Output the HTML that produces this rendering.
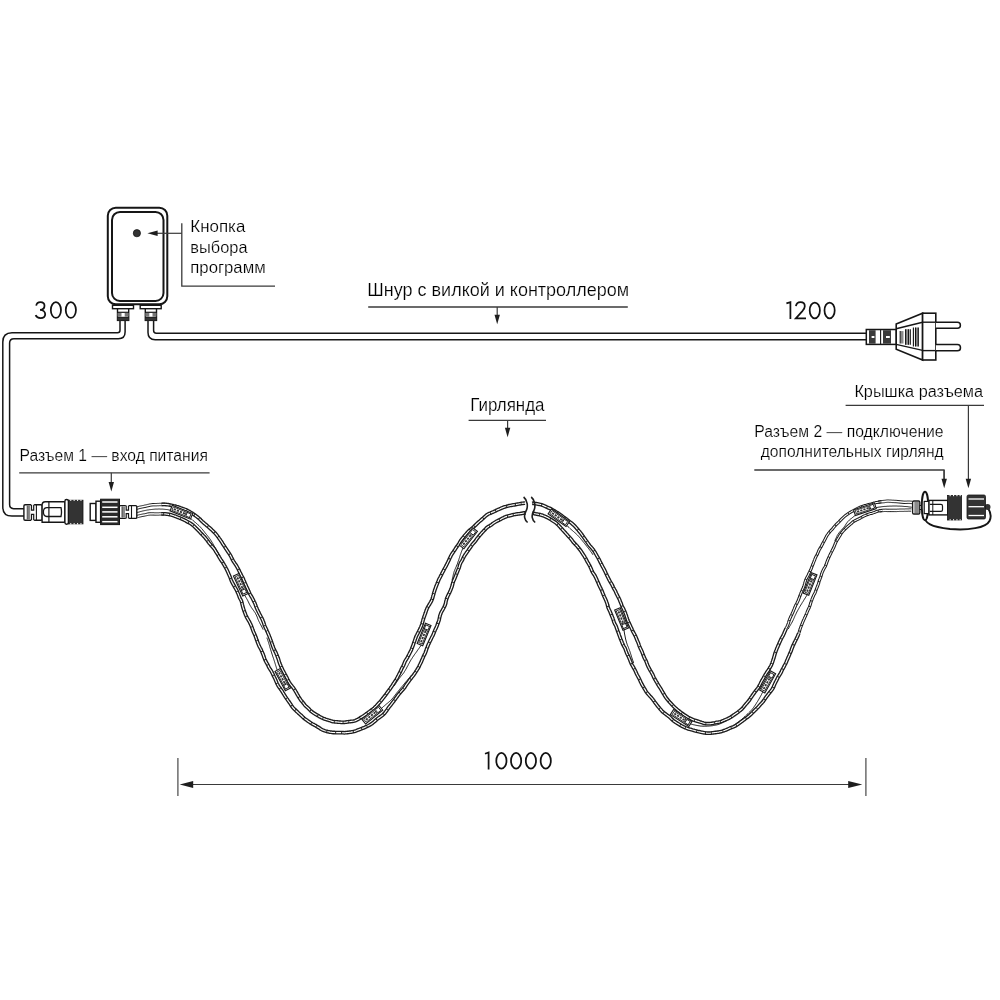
<!DOCTYPE html>
<html><head><meta charset="utf-8">
<style>
html,body{margin:0;padding:0;background:#fff;}
svg{display:block;}
text{font-family:"Liberation Sans",sans-serif;fill:#000;stroke:#fff;stroke-width:0.2px;}
</style></head>
<body>
<svg width="1000" height="1000" viewBox="0 0 1000 1000">
<defs><filter id="gs" x="0" y="0" width="1000" height="1000" filterUnits="userSpaceOnUse"><feColorMatrix type="identity"/></filter></defs>
<rect width="1000" height="1000" fill="#fff"/>

<path d="M120,320.4 V330.2 Q120,332.7 117.5,332.7 H12 Q2.8,332.7 2.8,342 V507 Q2.8,516.1 11.9,516.1 H24" fill="none" stroke="#161616" stroke-width="1.5"/>
<path d="M125.1,320.4 V332 Q125.1,338.7 118.4,338.7 H14 Q9.6,338.7 9.6,343.1 V504.6 Q9.6,508.65 13.6,508.65 H24" fill="none" stroke="#161616" stroke-width="1.5"/>
<path d="M148,320.4 V332.6 Q148,339.8 155.2,339.8 H866" fill="none" stroke="#161616" stroke-width="1.5"/>
<path d="M153.6,320.4 V330.6 Q153.6,333.3 156.3,333.3 H866" fill="none" stroke="#161616" stroke-width="1.5"/>


<rect x="107.8" y="207.7" width="59.5" height="96.6" rx="8" fill="#fff" stroke="#161616" stroke-width="2"/>
<rect x="112" y="211.9" width="51.5" height="89.1" rx="8" fill="none" stroke="#161616" stroke-width="2"/>
<circle cx="136.9" cy="233.2" r="3.6" fill="#333" stroke="#161616" stroke-width="0.8"/>
<rect x="112.5" y="305.3" width="21" height="3.4" fill="#fff" stroke="#161616" stroke-width="1.4"/>
<rect x="140.2" y="305.3" width="21" height="3.4" fill="#fff" stroke="#161616" stroke-width="1.4"/>
<g transform="translate(117.5,0)">
<rect x="0" y="308.7" width="11.2" height="11.7" fill="#fff" stroke="#161616" stroke-width="1.4"/>
<line x1="0" y1="312.3" x2="11.2" y2="312.3" stroke="#161616" stroke-width="1.2"/>
<rect x="0" y="313" width="4" height="3.6" fill="#777"/>
<rect x="7.2" y="313" width="4" height="3.6" fill="#777"/>
<line x1="0" y1="317.4" x2="11.2" y2="317.4" stroke="#161616" stroke-width="1.2"/>
<rect x="0" y="317.6" width="11.2" height="2.8" fill="#333"/>
</g><g transform="translate(145.3,0)">
<rect x="0" y="308.7" width="11.2" height="11.7" fill="#fff" stroke="#161616" stroke-width="1.4"/>
<line x1="0" y1="312.3" x2="11.2" y2="312.3" stroke="#161616" stroke-width="1.2"/>
<rect x="0" y="313" width="4" height="3.6" fill="#777"/>
<rect x="7.2" y="313" width="4" height="3.6" fill="#777"/>
<line x1="0" y1="317.4" x2="11.2" y2="317.4" stroke="#161616" stroke-width="1.2"/>
<rect x="0" y="317.6" width="11.2" height="2.8" fill="#333"/>
</g>

<rect x="866.3" y="329.5" width="30.1" height="14.9" fill="#fff" stroke="#161616" stroke-width="1.5"/>
<rect x="869" y="330.2" width="6.6" height="13.5" fill="#3a3a3a"/>
<rect x="883" y="330.2" width="8" height="13.5" fill="#3a3a3a"/>
<rect x="871.6" y="336" width="2.8" height="2" fill="#fff"/>
<rect x="886" y="336" width="3.8" height="2" fill="#fff"/>
<line x1="880.6" y1="329.5" x2="880.6" y2="344.4" stroke="#161616" stroke-width="1.1"/>
<polygon points="896.2,324 922.6,313.2 922.6,360 896.2,349.2" fill="#fff" stroke="#161616" stroke-width="1.6" stroke-linejoin="miter"/>
<line x1="896.2" y1="328.8" x2="922.6" y2="322.2" stroke="#161616" stroke-width="1.4"/>
<line x1="896.2" y1="344.4" x2="922.6" y2="350.4" stroke="#161616" stroke-width="1.4"/>
<rect x="900.9" y="331.1" width="2.6" height="12.4" fill="#8a8a8a"/>
<rect x="905.4" y="329.2" width="3.4" height="15.6" fill="#8a8a8a"/>
<rect x="915.5" y="327.5" width="2.8" height="19" fill="#8a8a8a"/>
<g stroke="#111" stroke-width="1.1">
<line x1="900.2" y1="331.1" x2="900.2" y2="343.5"/>
<line x1="905.6" y1="329.2" x2="905.6" y2="344.8"/><line x1="908.6" y1="329.2" x2="908.6" y2="344.8"/><line x1="910.3" y1="329.2" x2="910.3" y2="344.8"/>
<line x1="913.4" y1="327.5" x2="913.4" y2="346.5"/><line x1="915.5" y1="327.5" x2="915.5" y2="346.5"/><line x1="918.3" y1="327.5" x2="918.3" y2="346.5"/>
</g>
<rect x="922.6" y="313.2" width="13.2" height="46.8" fill="#fff" stroke="#161616" stroke-width="1.6"/>
<line x1="922.6" y1="322.2" x2="935.8" y2="322.2" stroke="#161616" stroke-width="1.4"/>
<line x1="922.6" y1="350.6" x2="935.8" y2="350.6" stroke="#161616" stroke-width="1.4"/>
<path d="M935.8,322.2 H957.4 A3,3 0 0 1 957.4,328.2 H935.8" fill="#fff" stroke="#161616" stroke-width="1.5"/>
<path d="M935.8,344.6 H957.4 A3.1,3.1 0 0 1 957.4,350.8 H935.8" fill="#fff" stroke="#161616" stroke-width="1.5"/>

<polyline points="161.6,504.5 162.7,504.4 163.8,504.4 164.9,504.4 166.0,504.5 167.1,504.6 168.1,504.7 169.2,504.9 170.3,505.1 171.3,505.3 172.4,505.5 173.5,505.8 174.5,506.0 175.6,506.2 176.6,506.5 177.7,506.8 178.7,507.2 179.7,507.6 180.7,508.0 181.7,508.4 182.8,508.7 183.8,509.0 184.8,509.4 185.8,509.8 186.8,510.3 187.8,510.8 188.7,511.3 189.7,511.8 190.6,512.4 191.5,512.9 192.5,513.5 193.4,514.1 194.2,514.7 195.1,515.3 196.0,516.0 196.8,516.6 197.7,517.3 198.5,517.9 199.3,518.6 200.1,519.3 200.8,520.1 201.6,520.9 202.3,521.6 203.1,522.3 203.9,523.0 204.7,523.7 205.5,524.3 206.3,525.0 207.1,525.7 207.9,526.4 208.7,527.1 209.5,527.8 210.3,528.5 211.1,529.2 211.8,529.9 212.6,530.6 213.3,531.3 214.1,532.1 214.8,532.8 215.5,533.6 216.2,534.4 216.8,535.2 217.5,536.1 218.1,536.9 218.7,537.7 219.3,538.6 219.9,539.4 220.5,540.3 221.1,541.1 221.7,542.0 222.2,542.9 222.7,543.8 223.3,544.6 223.9,545.5 224.4,546.3 225.0,547.2 225.5,548.1 226.1,548.9 226.7,549.8 227.2,550.7 227.8,551.5 228.4,552.4 229.0,553.2 229.5,554.1 230.1,554.9 230.6,555.8 231.1,556.7 231.5,557.6 232.0,558.6 232.4,559.5 232.9,560.4 233.4,561.3 234.0,562.1 234.6,563.0 235.1,563.8 235.7,564.7 236.3,565.5 236.8,566.4 237.3,567.3 237.8,568.2 238.3,569.1 238.7,570.0 239.2,570.9 239.6,571.8 240.1,572.7 240.5,573.6 240.9,574.5 241.4,575.4 241.9,576.3 242.4,577.2 242.9,578.1 243.3,579.0 243.7,580.0 244.1,580.9 244.5,581.8 244.8,582.8 245.2,583.7 245.7,584.6 246.1,585.5 246.5,586.5 246.9,587.4 247.4,588.3 247.8,589.2 248.2,590.1 248.6,591.1 249.0,592.0 249.4,592.9 249.8,593.8 250.3,594.7 250.8,595.6 251.3,596.4 251.9,597.3 252.3,598.2 252.8,599.1 253.3,600.0 253.7,600.9 254.1,601.8 254.6,602.7 255.0,603.6 255.4,604.6 255.7,605.5 256.0,606.5 256.4,607.4 256.8,608.3 257.2,609.3 257.6,610.2 258.1,611.1 258.5,612.0 259.0,612.9 259.4,613.8 259.9,614.7 260.4,615.6 260.8,616.4 261.3,617.3 261.7,618.2 262.2,619.1 262.6,620.0 263.0,621.0 263.4,621.9 263.7,622.8 264.0,623.8 264.3,624.8 264.6,625.7 265.0,626.6 265.4,627.5 265.8,628.4 266.3,629.3 266.7,630.2 267.1,631.2 267.5,632.1 267.9,633.0 268.3,633.9 268.7,634.8 269.1,635.7 269.4,636.7 269.8,637.6 270.2,638.5 270.5,639.4 270.9,640.4 271.2,641.3 271.5,642.2 271.8,643.2 272.2,644.1 272.5,645.1 272.8,646.0 273.2,647.0 273.5,647.9 273.9,648.8 274.3,649.7 274.8,650.6 275.2,651.5 275.7,652.3 276.1,653.2 276.5,654.2 276.9,655.1 277.2,656.0 277.6,656.9 277.9,657.8 278.3,658.8 278.6,659.7 278.9,660.7 279.1,661.6 279.5,662.6 279.8,663.5 280.2,664.4 280.6,665.3 280.9,666.3 281.4,667.2 281.8,668.0 282.2,668.9 282.6,669.8 283.1,670.7 283.5,671.6 284.0,672.4 284.5,673.3 284.9,674.2 285.4,675.0 285.9,675.9 286.3,676.7 286.8,677.6 287.2,678.5 287.6,679.4 288.0,680.3 288.5,681.1 289.0,682.0 289.5,682.8 290.0,683.6 290.6,684.4 291.2,685.1 291.8,685.9 292.4,686.7 293.0,687.4 293.6,688.2 294.1,689.0 294.6,689.8 295.1,690.6 295.6,691.4 296.1,692.3 296.6,693.1 297.0,693.9 297.5,694.8 298.0,695.6 298.5,696.4 299.0,697.2 299.5,698.0 300.0,698.8 300.5,699.6 301.1,700.4 301.7,701.1 302.3,701.8 302.9,702.5 303.5,703.3 304.1,704.0 304.6,704.8 305.2,705.5 305.9,706.2 306.6,706.8 307.3,707.4 308.0,708.0 308.7,708.7 309.3,709.3 309.9,710.0 310.6,710.7 311.3,711.3 312.0,711.9 312.8,712.4 313.5,712.9 314.3,713.4 315.1,713.9 315.8,714.4 316.6,714.8 317.4,715.3 318.2,715.7 319.0,716.2 319.7,716.7 320.5,717.1 321.3,717.5 322.1,717.9 322.9,718.3 323.7,718.6 324.6,718.9 325.4,719.2 326.3,719.5 327.1,719.8 328.0,720.0 328.8,720.3 329.7,720.5 330.5,720.8 331.4,721.1 332.2,721.4 333.1,721.6 334.0,721.7 334.8,721.8 335.7,721.9 336.6,721.9 337.5,722.0 338.4,722.1 339.3,722.2 340.2,722.2 341.1,722.3 341.9,722.3 342.8,722.4 343.7,722.4 344.6,722.3 345.5,722.2 346.4,722.1 347.2,721.9 348.1,721.8 349.0,721.7 349.9,721.6 350.7,721.5 351.6,721.4 352.5,721.3 353.4,721.2 354.2,721.0 355.1,720.7 355.9,720.4 356.7,720.0 357.5,719.6 358.3,719.2 359.1,718.7 359.8,718.2 360.6,717.7 361.4,717.2 362.1,716.8 362.9,716.3 363.7,715.8 364.4,715.3 365.2,714.7 365.9,714.2 366.7,713.7 367.4,713.1 368.2,712.6 368.9,712.0 369.6,711.5 370.4,710.9 371.2,710.4 371.9,709.8 372.7,709.3 373.4,708.7 374.1,708.1 374.8,707.4 375.5,706.7 376.2,706.1 376.8,705.4 377.5,704.6 378.1,703.9 378.8,703.2 379.4,702.5 380.1,701.8 380.7,701.1 381.3,700.4 381.9,699.6 382.5,698.8 383.1,698.1 383.7,697.3 384.3,696.5 384.9,695.8 385.5,695.0 386.1,694.3 386.6,693.5 387.2,692.7 387.8,691.9 388.3,691.1 388.9,690.3 389.5,689.6 390.1,688.8 390.6,688.0 391.2,687.2 391.7,686.4 392.3,685.6 392.8,684.8 393.3,683.9 393.8,683.1 394.4,682.3 394.9,681.5 395.4,680.7 395.9,679.9 396.5,679.1 396.9,678.2 397.4,677.4 397.8,676.5 398.3,675.6 398.7,674.8 399.2,673.9 399.6,673.0 400.1,672.2 400.5,671.3 400.9,670.4 401.3,669.5 401.7,668.6 402.1,667.8 402.6,666.9 403.1,666.1 403.5,665.2 403.9,664.3 404.2,663.4 404.6,662.5 405.0,661.6 405.4,660.7 405.9,659.9 406.5,659.1 407.0,658.2 407.5,657.4 407.9,656.5 408.4,655.7 408.8,654.8 409.3,653.9 409.7,653.1 410.2,652.2 410.6,651.3 411.1,650.5 411.4,649.6 411.8,648.6 412.1,647.7 412.5,646.8 412.8,645.9 413.2,645.0 413.5,644.0 413.8,643.1 414.1,642.2 414.5,641.2 414.8,640.3 415.1,639.4 415.4,638.5 415.8,637.5 416.1,636.6 416.5,635.7 417.0,634.8 417.4,634.0 417.9,633.1 418.4,632.2 418.8,631.3 419.3,630.4 419.7,629.5 420.1,628.7 420.5,627.8 421.0,626.9 421.3,625.9 421.7,625.0 422.0,624.1 422.3,623.1 422.5,622.2 422.8,621.2 423.0,620.2 423.3,619.2 423.6,618.3 423.9,617.3 424.2,616.4 424.6,615.5 424.9,614.5 425.3,613.6 425.6,612.7 425.9,611.7 426.2,610.8 426.6,609.8 426.9,608.9 427.3,608.0 427.8,607.1 428.3,606.2 428.8,605.3 429.4,604.5 429.9,603.6 430.4,602.7 430.9,601.9 431.4,601.0 431.8,600.1 432.2,599.1 432.5,598.2 432.8,597.2 433.0,596.2 433.3,595.3 433.6,594.3 433.8,593.3 434.1,592.3 434.4,591.4 434.7,590.4 435.0,589.4 435.4,588.5 435.7,587.5 436.1,586.6 436.4,585.7 436.8,584.7 437.2,583.8 437.6,582.8 437.9,581.9 438.3,581.0 438.7,580.0 439.1,579.1 439.6,578.2 440.1,577.3 440.5,576.4 441.0,575.5 441.5,574.6 441.9,573.7 442.4,572.7 442.9,571.8 443.4,570.9 443.8,570.0 444.3,569.1 444.8,568.2 445.3,567.3 445.8,566.4 446.3,565.5 446.7,564.6 447.2,563.7 447.6,562.7 448.1,561.8 448.5,560.9 449.0,560.0 449.4,559.0 449.8,558.1 450.3,557.2 450.7,556.2 451.2,555.3 451.7,554.4 452.3,553.5 452.9,552.7 453.5,551.8 454.0,551.0 454.6,550.1 455.2,549.2 455.7,548.3 456.3,547.5 456.9,546.6 457.6,545.8 458.2,544.9 458.7,544.1 459.3,543.2 459.8,542.2 460.3,541.3 460.9,540.4 461.5,539.6 462.1,538.8 462.8,538.0 463.5,537.1 464.1,536.3 464.8,535.5 465.5,534.7 466.2,533.9 466.9,533.1 467.5,532.3 468.3,531.5 469.0,530.8 469.8,530.1 470.7,529.4 471.5,528.8 472.3,528.1 473.1,527.4 473.9,526.7 474.7,525.9 475.4,525.2 476.2,524.5 476.9,523.7 477.7,523.0 478.4,522.3 479.2,521.6 480.1,520.9 480.9,520.2 481.7,519.5 482.5,518.8 483.3,518.1 484.1,517.3 484.9,516.6 485.7,515.9 486.5,515.2 487.4,514.6 488.3,514.0 489.3,513.6 490.3,513.2 491.3,512.7 492.3,512.3 493.3,511.9 494.2,511.4 495.2,511.0 496.2,510.5 497.1,510.1 498.1,509.6 499.1,509.2 500.1,508.8 501.0,508.3 502.0,507.9 503.0,507.5 504.0,507.1 505.0,506.8 506.1,506.5 507.1,506.2 508.1,506.0 509.2,505.7 510.2,505.5 511.3,505.3 512.3,505.1 513.4,504.9 514.5,504.8 515.5,504.6 516.6,504.4 517.6,504.2 518.7,504.0 519.8,503.8 520.8,503.6 521.9,503.4 523.0,503.3 524.0,503.2 525.1,503.1 526.2,503.1 527.3,503.1 528.4,503.2 529.5,503.2 530.6,503.2 531.7,503.2 532.8,503.3 533.9,503.4 535.0,503.5 536.1,503.7 537.2,503.9 538.3,504.1 539.4,504.3 540.5,504.5 541.6,504.8 542.6,505.2 543.6,505.6 544.6,506.1 545.6,506.5 546.6,507.0 547.6,507.4 548.7,507.9 549.6,508.3 550.6,508.8 551.6,509.3 552.5,509.8 553.5,510.4 554.4,510.9 555.3,511.5 556.2,512.1 557.1,512.6 558.0,513.2 558.9,513.8 559.8,514.4 560.7,515.0 561.5,515.7 562.4,516.3 563.2,516.9 564.1,517.6 564.9,518.2 565.8,518.8 566.6,519.5 567.5,520.1 568.3,520.7 569.2,521.4 570.0,522.0 570.9,522.6 571.7,523.3 572.5,524.0 573.3,524.7 574.0,525.4 574.8,526.2 575.5,526.9 576.2,527.7 576.9,528.5 577.5,529.3 578.2,530.1 578.9,530.9 579.6,531.7 580.2,532.5 580.9,533.3 581.5,534.1 582.1,535.0 582.7,535.8 583.4,536.7 583.9,537.5 584.5,538.4 585.1,539.2 585.7,540.1 586.3,540.9 586.9,541.7 587.5,542.6 588.1,543.4 588.6,544.3 589.3,545.1 589.9,545.9 590.6,546.7 591.3,547.4 592.0,548.2 592.6,549.0 593.3,549.8 593.9,550.7 594.4,551.5 595.0,552.4 595.5,553.3 596.0,554.2 596.5,555.1 597.0,556.0 597.5,556.8 598.0,557.7 598.5,558.6 599.0,559.5 599.5,560.4 599.9,561.3 600.4,562.3 600.8,563.2 601.3,564.1 601.8,565.0 602.2,565.9 602.7,566.8 603.2,567.7 603.7,568.6 604.2,569.5 604.6,570.4 605.1,571.3 605.5,572.2 605.9,573.1 606.4,574.1 606.8,575.0 607.2,575.9 607.7,576.8 608.1,577.7 608.6,578.6 609.0,579.5 609.5,580.4 610.0,581.3 610.5,582.2 611.1,583.1 611.6,583.9 612.1,584.8 612.5,585.7 613.0,586.7 613.4,587.6 613.9,588.5 614.4,589.4 614.9,590.2 615.4,591.1 615.8,592.0 616.2,593.0 616.6,593.9 617.1,594.8 617.5,595.7 618.0,596.6 618.5,597.5 618.9,598.4 619.4,599.3 619.8,600.2 620.1,601.2 620.5,602.1 620.9,603.1 621.3,604.0 621.6,604.9 622.0,605.9 622.4,606.8 622.9,607.7 623.4,608.6 623.8,609.5 624.2,610.4 624.6,611.3 625.0,612.2 625.4,613.2 625.7,614.1 626.1,615.1 626.4,616.0 626.7,617.0 627.0,617.9 627.3,618.9 627.6,619.8 628.0,620.8 628.4,621.7 628.8,622.6 629.2,623.5 629.7,624.4 630.1,625.3 630.5,626.2 630.9,627.1 631.4,628.0 631.8,628.9 632.2,629.9 632.6,630.8 633.0,631.7 633.5,632.6 634.0,633.4 634.5,634.3 634.9,635.2 635.4,636.1 635.8,637.0 636.2,637.9 636.5,638.8 636.9,639.7 637.3,640.7 637.7,641.6 638.1,642.5 638.5,643.4 638.8,644.3 639.1,645.3 639.4,646.2 639.8,647.1 640.2,648.0 640.6,648.9 641.1,649.8 641.5,650.7 641.9,651.6 642.3,652.5 642.6,653.4 643.0,654.4 643.3,655.3 643.7,656.2 644.0,657.1 644.4,658.0 644.9,658.9 645.4,659.8 645.8,660.6 646.2,661.5 646.6,662.4 646.9,663.4 647.3,664.3 647.6,665.2 648.0,666.1 648.4,667.0 648.9,667.8 649.3,668.7 649.8,669.6 650.3,670.4 650.8,671.2 651.3,672.1 651.8,672.9 652.2,673.8 652.7,674.6 653.1,675.5 653.5,676.4 653.9,677.3 654.3,678.1 654.8,679.0 655.2,679.8 655.7,680.6 656.2,681.5 656.7,682.3 657.2,683.1 657.6,684.0 658.1,684.8 658.6,685.6 659.1,686.4 659.7,687.2 660.2,688.0 660.7,688.8 661.2,689.6 661.7,690.5 662.2,691.3 662.6,692.1 663.1,692.9 663.6,693.8 664.1,694.6 664.6,695.4 665.1,696.2 665.6,697.0 666.1,697.8 666.7,698.5 667.3,699.3 667.9,700.0 668.5,700.7 669.1,701.4 669.7,702.1 670.4,702.8 671.0,703.5 671.6,704.2 672.3,704.9 672.9,705.6 673.6,706.2 674.2,706.9 674.9,707.5 675.6,708.2 676.3,708.8 677.0,709.4 677.7,710.0 678.4,710.5 679.2,711.1 679.9,711.6 680.6,712.2 681.4,712.8 682.1,713.3 682.8,713.9 683.6,714.4 684.3,714.9 685.1,715.4 685.9,715.9 686.6,716.4 687.4,716.9 688.2,717.4 689.0,717.8 689.8,718.2 690.6,718.6 691.5,719.0 692.3,719.4 693.1,719.7 694.0,720.1 694.8,720.3 695.7,720.6 696.6,720.9 697.4,721.2 698.3,721.4 699.2,721.7 700.0,722.0 700.9,722.2 701.7,722.5 702.6,722.8 703.5,723.1 704.3,723.3 705.2,723.5 706.1,723.6 707.0,723.7 707.9,723.7 708.8,723.7 709.7,723.7 710.6,723.6 711.5,723.5 712.3,723.4 713.2,723.2 714.1,723.0 715.0,722.8 715.8,722.6 716.7,722.4 717.6,722.3 718.5,722.2 719.4,722.0 720.3,721.8 721.1,721.5 722.0,721.2 722.8,720.8 723.7,720.5 724.5,720.1 725.3,719.8 726.2,719.4 727.0,719.0 727.8,718.7 728.7,718.3 729.5,717.8 730.3,717.4 731.1,716.9 731.8,716.4 732.6,715.9 733.4,715.4 734.1,714.8 734.9,714.3 735.6,713.8 736.4,713.3 737.2,712.7 737.9,712.2 738.6,711.6 739.3,711.0 740.1,710.5 740.8,709.9 741.5,709.3 742.2,708.6 742.8,707.9 743.4,707.2 744.0,706.5 744.6,705.7 745.2,705.0 745.8,704.3 746.4,703.6 747.0,702.9 747.6,702.2 748.2,701.5 748.8,700.8 749.4,700.0 749.9,699.2 750.4,698.4 750.9,697.6 751.5,696.8 752.0,696.1 752.5,695.3 753.1,694.5 753.6,693.8 754.2,693.0 754.8,692.2 755.3,691.5 755.9,690.7 756.5,690.0 757.1,689.2 757.7,688.5 758.2,687.7 758.7,686.9 759.2,686.0 759.6,685.2 760.1,684.3 760.5,683.5 760.9,682.6 761.4,681.7 761.8,680.9 762.3,680.1 762.8,679.2 763.3,678.4 763.8,677.6 764.2,676.7 764.7,675.8 765.1,675.0 765.6,674.2 766.2,673.3 766.7,672.5 767.3,671.7 767.8,670.9 768.4,670.1 768.9,669.2 769.4,668.4 769.9,667.5 770.4,666.7 770.9,665.8 771.3,665.0 771.7,664.1 772.1,663.1 772.4,662.2 772.7,661.3 773.0,660.3 773.3,659.4 773.7,658.4 773.9,657.5 774.2,656.5 774.5,655.6 774.7,654.6 775.0,653.6 775.3,652.7 775.7,651.8 776.0,650.8 776.4,649.9 776.7,649.0 777.1,648.1 777.5,647.2 777.9,646.2 778.3,645.3 778.7,644.4 779.1,643.5 779.5,642.6 779.9,641.7 780.3,640.8 780.7,639.9 781.1,639.0 781.6,638.1 782.1,637.2 782.6,636.3 783.1,635.5 783.5,634.6 783.9,633.7 784.3,632.7 784.7,631.8 785.1,630.9 785.5,630.0 785.9,629.1 786.3,628.2" fill="none" stroke="#1c1c1c" stroke-width="3.8" stroke-linejoin="round"/>
<polyline points="161.6,504.5 162.7,504.4 163.8,504.4 164.9,504.4 166.0,504.5 167.1,504.6 168.1,504.7 169.2,504.9 170.3,505.1 171.3,505.3 172.4,505.5 173.5,505.8 174.5,506.0 175.6,506.2 176.6,506.5 177.7,506.8 178.7,507.2 179.7,507.6 180.7,508.0 181.7,508.4 182.8,508.7 183.8,509.0 184.8,509.4 185.8,509.8 186.8,510.3 187.8,510.8 188.7,511.3 189.7,511.8 190.6,512.4 191.5,512.9 192.5,513.5 193.4,514.1 194.2,514.7 195.1,515.3 196.0,516.0 196.8,516.6 197.7,517.3 198.5,517.9 199.3,518.6 200.1,519.3 200.8,520.1 201.6,520.9 202.3,521.6 203.1,522.3 203.9,523.0 204.7,523.7 205.5,524.3 206.3,525.0 207.1,525.7 207.9,526.4 208.7,527.1 209.5,527.8 210.3,528.5 211.1,529.2 211.8,529.9 212.6,530.6 213.3,531.3 214.1,532.1 214.8,532.8 215.5,533.6 216.2,534.4 216.8,535.2 217.5,536.1 218.1,536.9 218.7,537.7 219.3,538.6 219.9,539.4 220.5,540.3 221.1,541.1 221.7,542.0 222.2,542.9 222.7,543.8 223.3,544.6 223.9,545.5 224.4,546.3 225.0,547.2 225.5,548.1 226.1,548.9 226.7,549.8 227.2,550.7 227.8,551.5 228.4,552.4 229.0,553.2 229.5,554.1 230.1,554.9 230.6,555.8 231.1,556.7 231.5,557.6 232.0,558.6 232.4,559.5 232.9,560.4 233.4,561.3 234.0,562.1 234.6,563.0 235.1,563.8 235.7,564.7 236.3,565.5 236.8,566.4 237.3,567.3 237.8,568.2 238.3,569.1 238.7,570.0 239.2,570.9 239.6,571.8 240.1,572.7 240.5,573.6 240.9,574.5 241.4,575.4 241.9,576.3 242.4,577.2 242.9,578.1 243.3,579.0 243.7,580.0 244.1,580.9 244.5,581.8 244.8,582.8 245.2,583.7 245.7,584.6 246.1,585.5 246.5,586.5 246.9,587.4 247.4,588.3 247.8,589.2 248.2,590.1 248.6,591.1 249.0,592.0 249.4,592.9 249.8,593.8 250.3,594.7 250.8,595.6 251.3,596.4 251.9,597.3 252.3,598.2 252.8,599.1 253.3,600.0 253.7,600.9 254.1,601.8 254.6,602.7 255.0,603.6 255.4,604.6 255.7,605.5 256.0,606.5 256.4,607.4 256.8,608.3 257.2,609.3 257.6,610.2 258.1,611.1 258.5,612.0 259.0,612.9 259.4,613.8 259.9,614.7 260.4,615.6 260.8,616.4 261.3,617.3 261.7,618.2 262.2,619.1 262.6,620.0 263.0,621.0 263.4,621.9 263.7,622.8 264.0,623.8 264.3,624.8 264.6,625.7 265.0,626.6 265.4,627.5 265.8,628.4 266.3,629.3 266.7,630.2 267.1,631.2 267.5,632.1 267.9,633.0 268.3,633.9 268.7,634.8 269.1,635.7 269.4,636.7 269.8,637.6 270.2,638.5 270.5,639.4 270.9,640.4 271.2,641.3 271.5,642.2 271.8,643.2 272.2,644.1 272.5,645.1 272.8,646.0 273.2,647.0 273.5,647.9 273.9,648.8 274.3,649.7 274.8,650.6 275.2,651.5 275.7,652.3 276.1,653.2 276.5,654.2 276.9,655.1 277.2,656.0 277.6,656.9 277.9,657.8 278.3,658.8 278.6,659.7 278.9,660.7 279.1,661.6 279.5,662.6 279.8,663.5 280.2,664.4 280.6,665.3 280.9,666.3 281.4,667.2 281.8,668.0 282.2,668.9 282.6,669.8 283.1,670.7 283.5,671.6 284.0,672.4 284.5,673.3 284.9,674.2 285.4,675.0 285.9,675.9 286.3,676.7 286.8,677.6 287.2,678.5 287.6,679.4 288.0,680.3 288.5,681.1 289.0,682.0 289.5,682.8 290.0,683.6 290.6,684.4 291.2,685.1 291.8,685.9 292.4,686.7 293.0,687.4 293.6,688.2 294.1,689.0 294.6,689.8 295.1,690.6 295.6,691.4 296.1,692.3 296.6,693.1 297.0,693.9 297.5,694.8 298.0,695.6 298.5,696.4 299.0,697.2 299.5,698.0 300.0,698.8 300.5,699.6 301.1,700.4 301.7,701.1 302.3,701.8 302.9,702.5 303.5,703.3 304.1,704.0 304.6,704.8 305.2,705.5 305.9,706.2 306.6,706.8 307.3,707.4 308.0,708.0 308.7,708.7 309.3,709.3 309.9,710.0 310.6,710.7 311.3,711.3 312.0,711.9 312.8,712.4 313.5,712.9 314.3,713.4 315.1,713.9 315.8,714.4 316.6,714.8 317.4,715.3 318.2,715.7 319.0,716.2 319.7,716.7 320.5,717.1 321.3,717.5 322.1,717.9 322.9,718.3 323.7,718.6 324.6,718.9 325.4,719.2 326.3,719.5 327.1,719.8 328.0,720.0 328.8,720.3 329.7,720.5 330.5,720.8 331.4,721.1 332.2,721.4 333.1,721.6 334.0,721.7 334.8,721.8 335.7,721.9 336.6,721.9 337.5,722.0 338.4,722.1 339.3,722.2 340.2,722.2 341.1,722.3 341.9,722.3 342.8,722.4 343.7,722.4 344.6,722.3 345.5,722.2 346.4,722.1 347.2,721.9 348.1,721.8 349.0,721.7 349.9,721.6 350.7,721.5 351.6,721.4 352.5,721.3 353.4,721.2 354.2,721.0 355.1,720.7 355.9,720.4 356.7,720.0 357.5,719.6 358.3,719.2 359.1,718.7 359.8,718.2 360.6,717.7 361.4,717.2 362.1,716.8 362.9,716.3 363.7,715.8 364.4,715.3 365.2,714.7 365.9,714.2 366.7,713.7 367.4,713.1 368.2,712.6 368.9,712.0 369.6,711.5 370.4,710.9 371.2,710.4 371.9,709.8 372.7,709.3 373.4,708.7 374.1,708.1 374.8,707.4 375.5,706.7 376.2,706.1 376.8,705.4 377.5,704.6 378.1,703.9 378.8,703.2 379.4,702.5 380.1,701.8 380.7,701.1 381.3,700.4 381.9,699.6 382.5,698.8 383.1,698.1 383.7,697.3 384.3,696.5 384.9,695.8 385.5,695.0 386.1,694.3 386.6,693.5 387.2,692.7 387.8,691.9 388.3,691.1 388.9,690.3 389.5,689.6 390.1,688.8 390.6,688.0 391.2,687.2 391.7,686.4 392.3,685.6 392.8,684.8 393.3,683.9 393.8,683.1 394.4,682.3 394.9,681.5 395.4,680.7 395.9,679.9 396.5,679.1 396.9,678.2 397.4,677.4 397.8,676.5 398.3,675.6 398.7,674.8 399.2,673.9 399.6,673.0 400.1,672.2 400.5,671.3 400.9,670.4 401.3,669.5 401.7,668.6 402.1,667.8 402.6,666.9 403.1,666.1 403.5,665.2 403.9,664.3 404.2,663.4 404.6,662.5 405.0,661.6 405.4,660.7 405.9,659.9 406.5,659.1 407.0,658.2 407.5,657.4 407.9,656.5 408.4,655.7 408.8,654.8 409.3,653.9 409.7,653.1 410.2,652.2 410.6,651.3 411.1,650.5 411.4,649.6 411.8,648.6 412.1,647.7 412.5,646.8 412.8,645.9 413.2,645.0 413.5,644.0 413.8,643.1 414.1,642.2 414.5,641.2 414.8,640.3 415.1,639.4 415.4,638.5 415.8,637.5 416.1,636.6 416.5,635.7 417.0,634.8 417.4,634.0 417.9,633.1 418.4,632.2 418.8,631.3 419.3,630.4 419.7,629.5 420.1,628.7 420.5,627.8 421.0,626.9 421.3,625.9 421.7,625.0 422.0,624.1 422.3,623.1 422.5,622.2 422.8,621.2 423.0,620.2 423.3,619.2 423.6,618.3 423.9,617.3 424.2,616.4 424.6,615.5 424.9,614.5 425.3,613.6 425.6,612.7 425.9,611.7 426.2,610.8 426.6,609.8 426.9,608.9 427.3,608.0 427.8,607.1 428.3,606.2 428.8,605.3 429.4,604.5 429.9,603.6 430.4,602.7 430.9,601.9 431.4,601.0 431.8,600.1 432.2,599.1 432.5,598.2 432.8,597.2 433.0,596.2 433.3,595.3 433.6,594.3 433.8,593.3 434.1,592.3 434.4,591.4 434.7,590.4 435.0,589.4 435.4,588.5 435.7,587.5 436.1,586.6 436.4,585.7 436.8,584.7 437.2,583.8 437.6,582.8 437.9,581.9 438.3,581.0 438.7,580.0 439.1,579.1 439.6,578.2 440.1,577.3 440.5,576.4 441.0,575.5 441.5,574.6 441.9,573.7 442.4,572.7 442.9,571.8 443.4,570.9 443.8,570.0 444.3,569.1 444.8,568.2 445.3,567.3 445.8,566.4 446.3,565.5 446.7,564.6 447.2,563.7 447.6,562.7 448.1,561.8 448.5,560.9 449.0,560.0 449.4,559.0 449.8,558.1 450.3,557.2 450.7,556.2 451.2,555.3 451.7,554.4 452.3,553.5 452.9,552.7 453.5,551.8 454.0,551.0 454.6,550.1 455.2,549.2 455.7,548.3 456.3,547.5 456.9,546.6 457.6,545.8 458.2,544.9 458.7,544.1 459.3,543.2 459.8,542.2 460.3,541.3 460.9,540.4 461.5,539.6 462.1,538.8 462.8,538.0 463.5,537.1 464.1,536.3 464.8,535.5 465.5,534.7 466.2,533.9 466.9,533.1 467.5,532.3 468.3,531.5 469.0,530.8 469.8,530.1 470.7,529.4 471.5,528.8 472.3,528.1 473.1,527.4 473.9,526.7 474.7,525.9 475.4,525.2 476.2,524.5 476.9,523.7 477.7,523.0 478.4,522.3 479.2,521.6 480.1,520.9 480.9,520.2 481.7,519.5 482.5,518.8 483.3,518.1 484.1,517.3 484.9,516.6 485.7,515.9 486.5,515.2 487.4,514.6 488.3,514.0 489.3,513.6 490.3,513.2 491.3,512.7 492.3,512.3 493.3,511.9 494.2,511.4 495.2,511.0 496.2,510.5 497.1,510.1 498.1,509.6 499.1,509.2 500.1,508.8 501.0,508.3 502.0,507.9 503.0,507.5 504.0,507.1 505.0,506.8 506.1,506.5 507.1,506.2 508.1,506.0 509.2,505.7 510.2,505.5 511.3,505.3 512.3,505.1 513.4,504.9 514.5,504.8 515.5,504.6 516.6,504.4 517.6,504.2 518.7,504.0 519.8,503.8 520.8,503.6 521.9,503.4 523.0,503.3 524.0,503.2 525.1,503.1 526.2,503.1 527.3,503.1 528.4,503.2 529.5,503.2 530.6,503.2 531.7,503.2 532.8,503.3 533.9,503.4 535.0,503.5 536.1,503.7 537.2,503.9 538.3,504.1 539.4,504.3 540.5,504.5 541.6,504.8 542.6,505.2 543.6,505.6 544.6,506.1 545.6,506.5 546.6,507.0 547.6,507.4 548.7,507.9 549.6,508.3 550.6,508.8 551.6,509.3 552.5,509.8 553.5,510.4 554.4,510.9 555.3,511.5 556.2,512.1 557.1,512.6 558.0,513.2 558.9,513.8 559.8,514.4 560.7,515.0 561.5,515.7 562.4,516.3 563.2,516.9 564.1,517.6 564.9,518.2 565.8,518.8 566.6,519.5 567.5,520.1 568.3,520.7 569.2,521.4 570.0,522.0 570.9,522.6 571.7,523.3 572.5,524.0 573.3,524.7 574.0,525.4 574.8,526.2 575.5,526.9 576.2,527.7 576.9,528.5 577.5,529.3 578.2,530.1 578.9,530.9 579.6,531.7 580.2,532.5 580.9,533.3 581.5,534.1 582.1,535.0 582.7,535.8 583.4,536.7 583.9,537.5 584.5,538.4 585.1,539.2 585.7,540.1 586.3,540.9 586.9,541.7 587.5,542.6 588.1,543.4 588.6,544.3 589.3,545.1 589.9,545.9 590.6,546.7 591.3,547.4 592.0,548.2 592.6,549.0 593.3,549.8 593.9,550.7 594.4,551.5 595.0,552.4 595.5,553.3 596.0,554.2 596.5,555.1 597.0,556.0 597.5,556.8 598.0,557.7 598.5,558.6 599.0,559.5 599.5,560.4 599.9,561.3 600.4,562.3 600.8,563.2 601.3,564.1 601.8,565.0 602.2,565.9 602.7,566.8 603.2,567.7 603.7,568.6 604.2,569.5 604.6,570.4 605.1,571.3 605.5,572.2 605.9,573.1 606.4,574.1 606.8,575.0 607.2,575.9 607.7,576.8 608.1,577.7 608.6,578.6 609.0,579.5 609.5,580.4 610.0,581.3 610.5,582.2 611.1,583.1 611.6,583.9 612.1,584.8 612.5,585.7 613.0,586.7 613.4,587.6 613.9,588.5 614.4,589.4 614.9,590.2 615.4,591.1 615.8,592.0 616.2,593.0 616.6,593.9 617.1,594.8 617.5,595.7 618.0,596.6 618.5,597.5 618.9,598.4 619.4,599.3 619.8,600.2 620.1,601.2 620.5,602.1 620.9,603.1 621.3,604.0 621.6,604.9 622.0,605.9 622.4,606.8 622.9,607.7 623.4,608.6 623.8,609.5 624.2,610.4 624.6,611.3 625.0,612.2 625.4,613.2 625.7,614.1 626.1,615.1 626.4,616.0 626.7,617.0 627.0,617.9 627.3,618.9 627.6,619.8 628.0,620.8 628.4,621.7 628.8,622.6 629.2,623.5 629.7,624.4 630.1,625.3 630.5,626.2 630.9,627.1 631.4,628.0 631.8,628.9 632.2,629.9 632.6,630.8 633.0,631.7 633.5,632.6 634.0,633.4 634.5,634.3 634.9,635.2 635.4,636.1 635.8,637.0 636.2,637.9 636.5,638.8 636.9,639.7 637.3,640.7 637.7,641.6 638.1,642.5 638.5,643.4 638.8,644.3 639.1,645.3 639.4,646.2 639.8,647.1 640.2,648.0 640.6,648.9 641.1,649.8 641.5,650.7 641.9,651.6 642.3,652.5 642.6,653.4 643.0,654.4 643.3,655.3 643.7,656.2 644.0,657.1 644.4,658.0 644.9,658.9 645.4,659.8 645.8,660.6 646.2,661.5 646.6,662.4 646.9,663.4 647.3,664.3 647.6,665.2 648.0,666.1 648.4,667.0 648.9,667.8 649.3,668.7 649.8,669.6 650.3,670.4 650.8,671.2 651.3,672.1 651.8,672.9 652.2,673.8 652.7,674.6 653.1,675.5 653.5,676.4 653.9,677.3 654.3,678.1 654.8,679.0 655.2,679.8 655.7,680.6 656.2,681.5 656.7,682.3 657.2,683.1 657.6,684.0 658.1,684.8 658.6,685.6 659.1,686.4 659.7,687.2 660.2,688.0 660.7,688.8 661.2,689.6 661.7,690.5 662.2,691.3 662.6,692.1 663.1,692.9 663.6,693.8 664.1,694.6 664.6,695.4 665.1,696.2 665.6,697.0 666.1,697.8 666.7,698.5 667.3,699.3 667.9,700.0 668.5,700.7 669.1,701.4 669.7,702.1 670.4,702.8 671.0,703.5 671.6,704.2 672.3,704.9 672.9,705.6 673.6,706.2 674.2,706.9 674.9,707.5 675.6,708.2 676.3,708.8 677.0,709.4 677.7,710.0 678.4,710.5 679.2,711.1 679.9,711.6 680.6,712.2 681.4,712.8 682.1,713.3 682.8,713.9 683.6,714.4 684.3,714.9 685.1,715.4 685.9,715.9 686.6,716.4 687.4,716.9 688.2,717.4 689.0,717.8 689.8,718.2 690.6,718.6 691.5,719.0 692.3,719.4 693.1,719.7 694.0,720.1 694.8,720.3 695.7,720.6 696.6,720.9 697.4,721.2 698.3,721.4 699.2,721.7 700.0,722.0 700.9,722.2 701.7,722.5 702.6,722.8 703.5,723.1 704.3,723.3 705.2,723.5 706.1,723.6 707.0,723.7 707.9,723.7 708.8,723.7 709.7,723.7 710.6,723.6 711.5,723.5 712.3,723.4 713.2,723.2 714.1,723.0 715.0,722.8 715.8,722.6 716.7,722.4 717.6,722.3 718.5,722.2 719.4,722.0 720.3,721.8 721.1,721.5 722.0,721.2 722.8,720.8 723.7,720.5 724.5,720.1 725.3,719.8 726.2,719.4 727.0,719.0 727.8,718.7 728.7,718.3 729.5,717.8 730.3,717.4 731.1,716.9 731.8,716.4 732.6,715.9 733.4,715.4 734.1,714.8 734.9,714.3 735.6,713.8 736.4,713.3 737.2,712.7 737.9,712.2 738.6,711.6 739.3,711.0 740.1,710.5 740.8,709.9 741.5,709.3 742.2,708.6 742.8,707.9 743.4,707.2 744.0,706.5 744.6,705.7 745.2,705.0 745.8,704.3 746.4,703.6 747.0,702.9 747.6,702.2 748.2,701.5 748.8,700.8 749.4,700.0 749.9,699.2 750.4,698.4 750.9,697.6 751.5,696.8 752.0,696.1 752.5,695.3 753.1,694.5 753.6,693.8 754.2,693.0 754.8,692.2 755.3,691.5 755.9,690.7 756.5,690.0 757.1,689.2 757.7,688.5 758.2,687.7 758.7,686.9 759.2,686.0 759.6,685.2 760.1,684.3 760.5,683.5 760.9,682.6 761.4,681.7 761.8,680.9 762.3,680.1 762.8,679.2 763.3,678.4 763.8,677.6 764.2,676.7 764.7,675.8 765.1,675.0 765.6,674.2 766.2,673.3 766.7,672.5 767.3,671.7 767.8,670.9 768.4,670.1 768.9,669.2 769.4,668.4 769.9,667.5 770.4,666.7 770.9,665.8 771.3,665.0 771.7,664.1 772.1,663.1 772.4,662.2 772.7,661.3 773.0,660.3 773.3,659.4 773.7,658.4 773.9,657.5 774.2,656.5 774.5,655.6 774.7,654.6 775.0,653.6 775.3,652.7 775.7,651.8 776.0,650.8 776.4,649.9 776.7,649.0 777.1,648.1 777.5,647.2 777.9,646.2 778.3,645.3 778.7,644.4 779.1,643.5 779.5,642.6 779.9,641.7 780.3,640.8 780.7,639.9 781.1,639.0 781.6,638.1 782.1,637.2 782.6,636.3 783.1,635.5 783.5,634.6 783.9,633.7 784.3,632.7 784.7,631.8 785.1,630.9 785.5,630.0 785.9,629.1 786.3,628.2" fill="none" stroke="#fff" stroke-width="1.15" stroke-dasharray="8 0.9 5 0.8 11 0.9" stroke-dashoffset="0"/>
<polyline points="786.3,628.2 786.7,627.3 787.1,626.4 787.6,625.5 787.9,624.5 788.3,623.6 788.6,622.6 788.8,621.7 789.1,620.7 789.5,619.8 789.8,618.8 790.2,617.9 790.6,617.0 791.0,616.1 791.5,615.2 791.9,614.3 792.3,613.4 792.7,612.5 793.1,611.6 793.5,610.6 793.9,609.7 794.3,608.8 794.6,607.9 795.0,607.0 795.4,606.1 795.8,605.1 796.3,604.3 796.8,603.4 797.2,602.5 797.7,601.6 798.1,600.7 798.5,599.7 798.8,598.8 799.2,597.9 799.5,596.9 799.9,596.0 800.2,595.1 800.6,594.1 800.9,593.2 801.3,592.3 801.7,591.4 802.1,590.4 802.5,589.5 802.9,588.6 803.3,587.7 803.7,586.7 804.0,585.8 804.3,584.8 804.6,583.9 804.8,582.9 805.1,581.9 805.4,581.0 805.7,580.0 806.1,579.1 806.5,578.2 807.0,577.3 807.5,576.4 808.0,575.6 808.4,574.7 808.8,573.7 809.2,572.8 809.7,571.9 810.1,571.0 810.5,570.1 811.0,569.2 811.3,568.3 811.7,567.3 812.1,566.4 812.4,565.4 812.8,564.5 813.2,563.6 813.5,562.6 813.9,561.7 814.3,560.7 814.7,559.8 815.0,558.8 815.4,557.9 815.8,557.0 816.3,556.1 816.8,555.2 817.3,554.3 817.7,553.3 818.1,552.4 818.5,551.4 818.9,550.5 819.3,549.6 819.9,548.7 820.4,547.8 821.0,546.9 821.5,546.0 822.0,545.1 822.4,544.2 822.9,543.2 823.4,542.3 823.9,541.4 824.4,540.5 824.9,539.6 825.4,538.7 825.8,537.7 826.3,536.8 826.8,535.8 827.4,534.9 828.0,534.1 828.6,533.2 829.3,532.4 830.0,531.6 830.7,530.8 831.4,530.0 832.2,529.3 832.9,528.5 833.5,527.6 834.2,526.8 834.9,526.0 835.6,525.2 836.4,524.4 837.1,523.7 837.9,523.0 838.7,522.2 839.4,521.4 840.1,520.7 840.9,519.9 841.6,519.1 842.4,518.3 843.2,517.6 844.0,516.9 844.8,516.2 845.6,515.5 846.5,514.9 847.4,514.2 848.3,513.6 849.2,513.0 850.2,512.4 851.1,511.9 852.0,511.3 853.0,510.8 853.9,510.3 854.9,509.8 855.9,509.3 856.8,508.8 857.8,508.3 858.8,507.8 859.8,507.4 860.7,507.0 861.8,506.6 862.8,506.3 863.8,505.9 864.8,505.6 865.8,505.4 866.9,505.1 867.9,504.8 868.9,504.5 869.9,504.2 871.0,504.0 872.0,503.7 873.0,503.4 874.0,503.1 875.0,502.9 876.1,502.6 877.1,502.4 878.1,502.2 879.2,502.1 880.2,501.9 881.3,501.8" fill="none" stroke="#1c1c1c" stroke-width="3.1" stroke-linejoin="round"/>
<polyline points="786.3,628.2 786.7,627.3 787.1,626.4 787.6,625.5 787.9,624.5 788.3,623.6 788.6,622.6 788.8,621.7 789.1,620.7 789.5,619.8 789.8,618.8 790.2,617.9 790.6,617.0 791.0,616.1 791.5,615.2 791.9,614.3 792.3,613.4 792.7,612.5 793.1,611.6 793.5,610.6 793.9,609.7 794.3,608.8 794.6,607.9 795.0,607.0 795.4,606.1 795.8,605.1 796.3,604.3 796.8,603.4 797.2,602.5 797.7,601.6 798.1,600.7 798.5,599.7 798.8,598.8 799.2,597.9 799.5,596.9 799.9,596.0 800.2,595.1 800.6,594.1 800.9,593.2 801.3,592.3 801.7,591.4 802.1,590.4 802.5,589.5 802.9,588.6 803.3,587.7 803.7,586.7 804.0,585.8 804.3,584.8 804.6,583.9 804.8,582.9 805.1,581.9 805.4,581.0 805.7,580.0 806.1,579.1 806.5,578.2 807.0,577.3 807.5,576.4 808.0,575.6 808.4,574.7 808.8,573.7 809.2,572.8 809.7,571.9 810.1,571.0 810.5,570.1 811.0,569.2 811.3,568.3 811.7,567.3 812.1,566.4 812.4,565.4 812.8,564.5 813.2,563.6 813.5,562.6 813.9,561.7 814.3,560.7 814.7,559.8 815.0,558.8 815.4,557.9 815.8,557.0 816.3,556.1 816.8,555.2 817.3,554.3 817.7,553.3 818.1,552.4 818.5,551.4 818.9,550.5 819.3,549.6 819.9,548.7 820.4,547.8 821.0,546.9 821.5,546.0 822.0,545.1 822.4,544.2 822.9,543.2 823.4,542.3 823.9,541.4 824.4,540.5 824.9,539.6 825.4,538.7 825.8,537.7 826.3,536.8 826.8,535.8 827.4,534.9 828.0,534.1 828.6,533.2 829.3,532.4 830.0,531.6 830.7,530.8 831.4,530.0 832.2,529.3 832.9,528.5 833.5,527.6 834.2,526.8 834.9,526.0 835.6,525.2 836.4,524.4 837.1,523.7 837.9,523.0 838.7,522.2 839.4,521.4 840.1,520.7 840.9,519.9 841.6,519.1 842.4,518.3 843.2,517.6 844.0,516.9 844.8,516.2 845.6,515.5 846.5,514.9 847.4,514.2 848.3,513.6 849.2,513.0 850.2,512.4 851.1,511.9 852.0,511.3 853.0,510.8 853.9,510.3 854.9,509.8 855.9,509.3 856.8,508.8 857.8,508.3 858.8,507.8 859.8,507.4 860.7,507.0 861.8,506.6 862.8,506.3 863.8,505.9 864.8,505.6 865.8,505.4 866.9,505.1 867.9,504.8 868.9,504.5 869.9,504.2 871.0,504.0 872.0,503.7 873.0,503.4 874.0,503.1 875.0,502.9 876.1,502.6 877.1,502.4 878.1,502.2 879.2,502.1 880.2,501.9 881.3,501.8" fill="none" stroke="#fff" stroke-width="1.05" stroke-dasharray="8 0.9 5 0.8 11 0.9" stroke-dashoffset="0"/>
<polyline points="134.3,507.8 135.2,507.5 136.2,507.1 137.2,506.8 138.2,506.5 139.3,506.2 140.3,506.0 141.4,505.8 142.4,505.6 143.5,505.4 144.5,505.1 145.6,504.9 146.6,504.7 147.6,504.4 148.7,504.2 149.8,503.9 150.8,503.8 151.9,503.6 153.0,503.5 154.1,503.5 155.2,503.5 156.2,503.5 157.3,503.4 158.4,503.4 159.5,503.3 160.6,503.3 161.7,503.3 162.8,503.2 163.9,503.2 165.0,503.2" fill="none" stroke="#1c1c1c" stroke-width="1.0"/>
<polyline points="135.0,510.1 135.9,509.8 136.9,509.4 137.9,509.1 138.9,508.8 139.9,508.5 140.9,508.3 141.9,508.1 142.9,507.9 144.0,507.7 145.0,507.5 146.0,507.3 147.0,507.0 148.0,506.8 149.0,506.6 150.1,506.3 151.1,506.1 152.1,506.0 153.2,505.9 154.2,505.9 155.3,505.9 156.3,505.9 157.4,505.8 158.4,505.8 159.5,505.7 160.5,505.7 161.6,505.7 162.7,505.6 163.7,505.6 164.8,505.6" fill="none" stroke="#1c1c1c" stroke-width="1.0"/>
<polyline points="878.0,501.0 879.0,500.9 880.1,500.7 881.1,500.6 882.2,500.5 883.2,500.4 884.3,500.3 885.3,500.2 886.4,500.0 887.5,499.9 888.5,499.9 889.6,500.0 890.6,500.0 891.7,500.1 892.7,500.2 893.8,500.2 894.8,500.3 895.9,500.3 896.9,500.4 898.0,500.5 899.0,500.6 900.1,500.7 901.1,500.8 902.1,500.9 903.2,501.0 904.2,501.1 905.3,501.1 906.3,501.1 907.4,501.0 908.4,501.0 909.5,501.0 910.5,501.1 911.6,501.2 912.6,501.4" fill="none" stroke="#1c1c1c" stroke-width="1.0"/>
<polyline points="878.3,503.4 879.3,503.3 880.4,503.1 881.4,503.0 882.4,502.9 883.5,502.8 884.5,502.7 885.5,502.5 886.6,502.4 887.6,502.3 888.6,502.3 889.7,502.4 890.7,502.4 891.7,502.5 892.8,502.6 893.8,502.6 894.8,502.7 895.9,502.7 896.9,502.8 897.9,502.9 898.9,503.0 900.0,503.1 901.0,503.2 902.0,503.3 903.0,503.4 904.0,503.5 905.1,503.5 906.1,503.5 907.1,503.4 908.2,503.4 909.2,503.4 910.2,503.5 911.2,503.6 912.2,503.7" fill="none" stroke="#1c1c1c" stroke-width="1.0"/>
<polyline points="161.3,513.8 162.2,513.8 163.1,513.8 164.0,513.8 165.0,513.8 165.9,514.0 166.8,514.1 167.7,514.2 168.6,514.4 169.5,514.5 170.4,514.7 171.3,514.9 172.2,515.2 173.1,515.5 173.9,515.8 174.8,516.1 175.7,516.4 176.5,516.8 177.4,517.1 178.2,517.5 179.1,517.8 179.9,518.1 180.8,518.5 181.6,518.8 182.5,519.2 183.3,519.6 184.2,520.0 185.0,520.4 185.8,520.8 186.6,521.3 187.4,521.8 188.2,522.2 189.1,522.6 189.9,523.1 190.7,523.5 191.5,524.1 192.2,524.6 193.0,525.3 193.7,525.9 194.3,526.5 195.0,527.2 195.7,527.9 196.4,528.5 197.0,529.2 197.7,529.9 198.4,530.5 199.0,531.2 199.7,531.9 200.3,532.6 201.0,533.3 201.6,534.0 202.3,534.6 202.9,535.3 203.6,536.0 204.2,536.7 204.9,537.4 205.5,538.2 206.1,538.9 206.7,539.6 207.3,540.4 207.8,541.2 208.4,542.0 208.9,542.7 209.5,543.5 210.2,544.2 210.8,545.0 211.4,545.7 212.1,546.4 212.7,547.1 213.4,547.9 214.0,548.6 214.6,549.4 215.1,550.2 215.6,551.1 216.0,551.9 216.6,552.7 217.1,553.5 217.6,554.3 218.1,555.2 218.6,556.0 219.1,556.9 219.6,557.7 220.1,558.6 220.6,559.4 221.1,560.2 221.7,561.0 222.3,561.8 222.8,562.6 223.3,563.5 223.8,564.3 224.3,565.2 224.8,566.0 225.3,566.9 225.8,567.7 226.2,568.6 226.7,569.5 227.1,570.3 227.5,571.2 227.9,572.1 228.3,573.0 228.7,573.9 229.1,574.8 229.5,575.7 229.9,576.6 230.3,577.6 230.6,578.5 230.9,579.4 231.3,580.4 231.7,581.3 232.1,582.2 232.6,583.0 233.0,583.9 233.5,584.8 234.0,585.6 234.5,586.5 235.0,587.4 235.5,588.2 236.0,589.1 236.5,590.0 236.9,590.8 237.3,591.7 237.7,592.7 238.1,593.6 238.5,594.5 238.8,595.4 239.2,596.4 239.5,597.3 239.9,598.2 240.4,599.1 240.9,599.9 241.3,600.8 241.6,601.8 241.9,602.8 242.1,603.8 242.3,604.7 242.6,605.7 242.8,606.7 243.1,607.6 243.4,608.6 243.7,609.5 244.0,610.5 244.4,611.4 244.7,612.4 245.1,613.3 245.4,614.2 245.8,615.2 246.2,616.1 246.6,617.0 247.1,617.9 247.6,618.7 248.1,619.6 248.6,620.5 249.1,621.3 249.6,622.2 250.0,623.1 250.5,624.0 250.9,624.9 251.3,625.8 251.6,626.8 252.0,627.7 252.3,628.6 252.7,629.6 253.0,630.5 253.4,631.5 253.8,632.4 254.2,633.3 254.6,634.2 255.0,635.1 255.4,636.1 255.7,637.0 256.1,637.9 256.4,638.9 256.7,639.8 257.1,640.8 257.4,641.7 257.8,642.7 258.1,643.6 258.5,644.6 258.9,645.5 259.3,646.4 259.8,647.3 260.3,648.2 260.8,649.0 261.2,649.9 261.6,650.9 262.0,651.8 262.4,652.7 262.8,653.7 263.1,654.6 263.5,655.5 263.8,656.5 264.2,657.5 264.5,658.4 264.9,659.4 265.3,660.3 265.7,661.2 266.2,662.1 266.7,663.0 267.2,663.8 267.6,664.7 268.1,665.6 268.5,666.6 269.0,667.5 269.5,668.3 270.0,669.2 270.6,670.0 271.2,670.9 271.7,671.8 272.1,672.7 272.6,673.6 273.0,674.5 273.4,675.5 273.9,676.4 274.3,677.3 274.8,678.2 275.2,679.1 275.6,680.1 276.0,681.0 276.4,681.9 276.8,682.9 277.2,683.8 277.7,684.7 278.2,685.7 278.7,686.5 279.3,687.4 279.9,688.2 280.5,689.0 281.1,689.9 281.7,690.7 282.3,691.6 282.8,692.5 283.4,693.4 283.9,694.2 284.4,695.1 285.0,696.0 285.5,696.9 286.1,697.7 286.7,698.6 287.3,699.4 287.9,700.3 288.5,701.1 289.1,702.0 289.7,702.8 290.3,703.7 290.9,704.6 291.4,705.5 292.0,706.4 292.6,707.2 293.3,708.0 294.1,708.8 294.8,709.5 295.6,710.2 296.3,711.0 297.1,711.7 297.9,712.5 298.6,713.2 299.4,713.9 300.2,714.6 301.0,715.3 301.8,716.0 302.6,716.8 303.3,717.5 304.1,718.2 305.0,718.9 305.8,719.6 306.7,720.1 307.6,720.8 308.5,721.4 309.4,722.0 310.2,722.6 311.1,723.2 312.1,723.8 313.0,724.3 314.0,724.8 314.9,725.3 315.9,725.8 316.8,726.4 317.8,727.0 318.7,727.5 319.6,728.1 320.5,728.8 321.5,729.4 322.5,729.9 323.5,730.3 324.6,730.7 325.6,731.0 326.7,731.3 327.8,731.6 328.9,731.8 329.9,732.1 331.0,732.2 332.1,732.4 333.2,732.5 334.3,732.5 335.4,732.6 336.5,732.6 337.7,732.6 338.8,732.6 339.9,732.6 340.9,732.6 342.0,732.7 343.2,732.7 344.3,732.8 345.4,732.7 346.5,732.6 347.6,732.5 348.7,732.4 349.8,732.2 350.9,732.1 352.0,731.9 353.1,731.7 354.2,731.4 355.2,731.1 356.3,730.7 357.3,730.3 358.4,729.9 359.4,729.5 360.5,729.1 361.5,728.7 362.5,728.3 363.6,727.9 364.6,727.5 365.6,727.0 366.6,726.6 367.6,726.1 368.6,725.6 369.5,725.1 370.5,724.5 371.4,723.9 372.3,723.3 373.1,722.6 374.0,721.9 374.8,721.2 375.6,720.5 376.4,719.8 377.2,719.1 378.0,718.5 378.9,717.8 379.8,717.2 380.6,716.6 381.5,716.0 382.4,715.3 383.2,714.6 383.9,713.9 384.7,713.1 385.3,712.3 386.0,711.5 386.6,710.6 387.2,709.8 387.8,708.9 388.4,708.0 389.0,707.2 389.6,706.4 390.3,705.6 390.9,704.8 391.6,703.9 392.2,703.1 392.8,702.3 393.5,701.5 394.1,700.7 394.7,699.9 395.3,699.0 395.9,698.2 396.5,697.3 397.1,696.5 397.7,695.7 398.3,694.9 398.9,694.1 399.6,693.3 400.2,692.5 400.9,691.7 401.6,690.9 402.3,690.2 403.0,689.4 403.7,688.6 404.3,687.8 404.9,687.0 405.4,686.1 406.0,685.2 406.6,684.4 407.1,683.5 407.8,682.7 408.4,681.9 409.0,681.0 409.6,680.2 410.2,679.4 410.9,678.6 411.5,677.7 412.1,676.9 412.8,676.1 413.4,675.3 414.0,674.5 414.6,673.6 415.2,672.7 415.7,671.9 416.3,671.0 416.9,670.1 417.4,669.3 418.0,668.4 418.5,667.5 419.0,666.6 419.4,665.6 419.8,664.7 420.3,663.8 420.7,662.9 421.2,662.0 421.6,661.0 422.0,660.1 422.4,659.1 422.8,658.2 423.2,657.2 423.6,656.3 424.0,655.4 424.5,654.5 425.0,653.6 425.4,652.6 425.7,651.7 426.1,650.7 426.4,649.7 426.7,648.8 427.1,647.8 427.5,646.9 427.8,645.9 428.2,645.0 428.6,644.1 429.1,643.1 429.5,642.2 429.9,641.3 430.4,640.4 430.8,639.5 431.3,638.6 431.7,637.6 432.2,636.7 432.7,635.8 433.1,634.9 433.5,634.0 433.9,633.1 434.2,632.1 434.6,631.2 435.0,630.2 435.4,629.3 435.9,628.4 436.3,627.5 436.7,626.6 437.1,625.6 437.4,624.7 437.7,623.8 438.1,622.8 438.4,621.9 438.8,620.9 439.1,620.0 439.3,619.0 439.5,618.0 439.7,617.0 440.0,616.0 440.2,615.0 440.6,614.1 440.9,613.1 441.3,612.2 441.8,611.3 442.3,610.5 442.8,609.6 443.3,608.7 443.8,607.8 444.2,606.9 444.7,606.0 445.1,605.1 445.4,604.2 445.7,603.2 445.8,602.2 446.0,601.2 446.3,600.2 446.5,599.3 446.9,598.3 447.2,597.4 447.6,596.5 448.0,595.6 448.5,594.7 448.9,593.8 449.4,592.9 449.8,592.0 450.2,591.1 450.6,590.2 450.9,589.3 451.3,588.4 451.6,587.5 452.0,586.5 452.2,585.6 452.5,584.6 452.7,583.6 453.0,582.7 453.3,581.7 453.6,580.8 454.1,579.9 454.5,579.0 454.9,578.1 455.2,577.2 455.6,576.3 455.9,575.4 456.3,574.5 456.7,573.6 457.0,572.7 457.4,571.8 457.7,570.9 458.1,570.0 458.5,569.1 458.9,568.2 459.2,567.3 459.5,566.3 459.7,565.3 460.0,564.4 460.4,563.5 460.8,562.6 461.3,561.8 461.8,561.0 462.3,560.1 462.7,559.3 463.1,558.4 463.6,557.5 464.0,556.7 464.5,555.8 465.0,555.0 465.6,554.2 466.1,553.4 466.6,552.6 467.2,551.9 467.7,551.1 468.3,550.3 468.8,549.5 469.4,548.7 469.9,547.9 470.5,547.2 471.0,546.4 471.6,545.6 472.1,544.8 472.7,544.1 473.3,543.4 474.0,542.7 474.6,542.0 475.2,541.3 475.8,540.5 476.3,539.7 476.8,538.9 477.4,538.2 478.0,537.5 478.6,536.7 479.2,536.0 479.8,535.3 480.4,534.6 481.0,533.9 481.6,533.2 482.2,532.5 482.9,531.8 483.5,531.1 484.2,530.4 484.8,529.8 485.5,529.1 486.1,528.4 486.8,527.7 487.5,527.1 488.3,526.6 489.2,526.2 490.0,525.7 490.8,525.2 491.5,524.7 492.3,524.1 493.0,523.5 493.8,523.0 494.6,522.5 495.4,522.0 496.2,521.5 497.0,521.1 497.8,520.7 498.7,520.3 499.5,519.8 500.3,519.4 501.2,519.0 502.0,518.5 502.8,518.1 503.7,517.7 504.5,517.3 505.4,516.9 506.3,516.6 507.2,516.3 508.1,516.0 509.0,515.8 509.9,515.6 510.8,515.4 511.7,515.1 512.6,514.9 513.6,514.7 514.5,514.5 515.4,514.3 516.3,514.1 517.2,514.0 518.1,513.9 519.1,513.8 520.0,513.7 520.9,513.5 521.8,513.4 522.7,513.2 523.6,513.0 524.6,512.9 525.5,512.9 526.4,512.9 527.3,513.0 528.2,513.1 529.1,513.1 530.1,513.1 531.0,513.1 531.9,513.1 532.8,513.2 533.7,513.4 534.6,513.6 535.4,513.8 536.3,514.0 537.2,514.1 538.1,514.3 539.0,514.5 539.9,514.6 540.7,514.9 541.6,515.1 542.5,515.4 543.3,515.7 544.2,516.0 545.0,516.4 545.9,516.8 546.7,517.2 547.5,517.6 548.3,518.0 549.1,518.5 549.9,518.9 550.7,519.4 551.5,519.9 552.2,520.4 553.0,520.9 553.8,521.4 554.6,521.9 555.4,522.4 556.1,523.0 556.8,523.6 557.5,524.3 558.2,524.9 558.8,525.6 559.5,526.3 560.1,527.0 560.7,527.7 561.3,528.4 562.0,529.1 562.6,529.8 563.2,530.5 563.9,531.2 564.5,531.9 565.2,532.6 565.8,533.3 566.4,534.0 567.1,534.7 567.7,535.4 568.3,536.1 569.0,536.8 569.6,537.5 570.3,538.2 570.9,538.9 571.5,539.6 572.1,540.4 572.6,541.2 573.2,542.0 573.8,542.7 574.5,543.4 575.2,544.1 575.9,544.8 576.5,545.5 577.2,546.2 577.8,547.0 578.4,547.7 579.0,548.5 579.6,549.3 580.2,550.0 580.8,550.8 581.3,551.6 581.8,552.4 582.4,553.3 582.9,554.1 583.4,554.9 584.0,555.7 584.5,556.5 585.0,557.4 585.5,558.2 586.0,559.1 586.4,560.0 586.9,560.8 587.3,561.7 587.8,562.5 588.4,563.4 588.8,564.2 589.3,565.1 589.8,565.9 590.2,566.8 590.6,567.7 591.0,568.6 591.4,569.5 591.8,570.5 592.2,571.4 592.6,572.2 593.1,573.1 593.7,573.9 594.2,574.7 594.8,575.5 595.2,576.4 595.7,577.3 596.1,578.2 596.5,579.1 596.9,580.0 597.3,580.9 597.7,581.8 598.1,582.7 598.5,583.6 598.8,584.5 599.3,585.4 599.7,586.3 600.1,587.2 600.6,588.0 601.0,588.9 601.4,589.8 601.8,590.7 602.2,591.6 602.5,592.6 602.9,593.5 603.3,594.4 603.6,595.3 604.0,596.2 604.4,597.1 604.9,598.0 605.3,598.9 605.7,599.8 606.1,600.7 606.4,601.6 606.8,602.6 607.1,603.5 607.4,604.5 607.6,605.4 607.9,606.4 608.1,607.4 608.5,608.3 608.9,609.2 609.3,610.1 609.8,611.0 610.2,611.9 610.5,612.8 610.9,613.7 611.3,614.7 611.6,615.6 612.0,616.5 612.4,617.4 612.8,618.3 613.1,619.3 613.4,620.2 613.7,621.2 614.0,622.2 614.4,623.1 614.8,624.0 615.3,624.8 615.8,625.7 616.2,626.6 616.5,627.6 616.8,628.5 617.2,629.5 617.5,630.4 617.8,631.4 618.2,632.3 618.6,633.3 618.9,634.2 619.2,635.1 619.6,636.1 619.9,637.0 620.3,638.0 620.6,638.9 621.0,639.8 621.4,640.8 621.8,641.7 622.1,642.6 622.5,643.6 622.9,644.5 623.4,645.4 623.8,646.3 624.4,647.2 624.9,648.0 625.3,649.0 625.6,649.9 625.9,650.9 626.3,651.8 626.6,652.8 627.0,653.7 627.5,654.6 627.9,655.5 628.4,656.4 628.8,657.3 629.2,658.3 629.6,659.2 630.0,660.1 630.3,661.1 630.7,662.1 631.1,663.0 631.5,663.9 631.9,664.8 632.5,665.7 633.0,666.6 633.5,667.5 634.0,668.4 634.5,669.3 635.0,670.2 635.4,671.1 635.9,672.0 636.2,673.0 636.7,673.9 637.1,674.8 637.6,675.7 638.1,676.6 638.6,677.5 639.1,678.4 639.5,679.4 640.0,680.3 640.4,681.2 640.8,682.2 641.3,683.1 641.7,684.0 642.2,684.9 642.7,685.8 643.3,686.7 643.8,687.6 644.3,688.5 644.9,689.4 645.4,690.3 645.9,691.2 646.5,692.1 647.1,692.9 647.8,693.7 648.5,694.5 649.2,695.3 649.9,696.1 650.6,696.8 651.3,697.6 652.0,698.4 652.7,699.2 653.3,700.1 653.9,700.9 654.5,701.8 655.1,702.6 655.7,703.5 656.4,704.3 657.0,705.2 657.7,706.0 658.3,706.8 659.0,707.6 659.7,708.4 660.4,709.2 661.1,710.0 661.8,710.8 662.6,711.6 663.3,712.3 664.2,713.0 665.0,713.6 665.9,714.3 666.7,714.9 667.6,715.5 668.5,716.2 669.3,716.8 670.1,717.5 670.9,718.3 671.6,719.1 672.4,719.8 673.2,720.5 674.1,721.2 675.0,721.8 675.9,722.4 676.8,723.0 677.7,723.5 678.6,724.1 679.5,724.7 680.4,725.3 681.4,725.8 682.3,726.3 683.3,726.8 684.3,727.2 685.3,727.7 686.3,728.1 687.3,728.5 688.3,728.9 689.4,729.2 690.4,729.4 691.5,729.7 692.5,730.0 693.6,730.3 694.6,730.6 695.7,730.9 696.7,731.2 697.8,731.5 698.9,731.7 699.9,731.9 701.0,732.2 702.1,732.4 703.2,732.6 704.3,732.8 705.4,733.0 706.5,733.1 707.6,733.2 708.7,733.2 709.8,733.2 710.9,733.1 712.1,732.9 713.2,732.8 714.3,732.6 715.4,732.5 716.5,732.4 717.6,732.2 718.7,732.1 719.7,731.8 720.8,731.6 721.9,731.3 722.9,731.0 724.0,730.6 725.0,730.3 726.0,729.9 727.0,729.5 728.0,729.1 729.0,728.6 730.0,728.1 731.0,727.7 732.0,727.3 733.0,727.0 734.0,726.6 735.0,726.1 735.9,725.6 736.8,725.0 737.7,724.3 738.6,723.7 739.4,723.1 740.3,722.5 741.2,721.8 742.0,721.2 742.9,720.6 743.7,719.9 744.6,719.3 745.4,718.6 746.3,718.0 747.2,717.4 748.0,716.8 748.8,716.1 749.7,715.4 750.4,714.7 751.2,714.0 752.0,713.2 752.7,712.5 753.4,711.7 754.2,711.0 754.9,710.2 755.7,709.5 756.5,708.8 757.2,708.0 757.9,707.3 758.7,706.5 759.3,705.7 760.0,704.9 760.7,704.1 761.5,703.4 762.2,702.6 762.9,701.8 763.5,701.0 764.1,700.1 764.7,699.3 765.3,698.4 765.9,697.5 766.5,696.7 767.1,695.9 767.8,695.0 768.4,694.2 769.0,693.4 769.7,692.6 770.3,691.7 771.0,690.9 771.6,690.1 772.2,689.3 772.8,688.4 773.3,687.5 773.7,686.5 774.1,685.6 774.5,684.6 774.9,683.6 775.4,682.7 775.8,681.8 776.3,680.9 776.8,680.0 777.2,679.1 777.7,678.1 778.1,677.2 778.7,676.4 779.2,675.5 779.8,674.6 780.3,673.7 780.8,672.9 781.3,671.9 781.7,671.0 782.1,670.1 782.6,669.2 783.1,668.3 783.6,667.4 784.1,666.5 784.5,665.6 785.0,664.7 785.5,663.8 785.9,662.9 786.3,662.0 786.7,661.0 787.1,660.1 787.5,659.2 787.9,658.2 788.3,657.3 788.7,656.4 789.1,655.5 789.5,654.5 789.9,653.6 790.3,652.7 790.7,651.8 791.1,650.9 791.4,649.9 791.7,649.0 792.1,648.0 792.5,647.1 792.8,646.1 793.3,645.2 793.7,644.3 794.1,643.4 794.5,642.5 795.0,641.6 795.4,640.7 795.9,639.8 796.3,638.9 796.8,638.0 797.2,637.1 797.6,636.2 798.0,635.2 798.4,634.3 798.8,633.4" fill="none" stroke="#1c1c1c" stroke-width="3.8" stroke-linejoin="round"/>
<polyline points="161.3,513.8 162.2,513.8 163.1,513.8 164.0,513.8 165.0,513.8 165.9,514.0 166.8,514.1 167.7,514.2 168.6,514.4 169.5,514.5 170.4,514.7 171.3,514.9 172.2,515.2 173.1,515.5 173.9,515.8 174.8,516.1 175.7,516.4 176.5,516.8 177.4,517.1 178.2,517.5 179.1,517.8 179.9,518.1 180.8,518.5 181.6,518.8 182.5,519.2 183.3,519.6 184.2,520.0 185.0,520.4 185.8,520.8 186.6,521.3 187.4,521.8 188.2,522.2 189.1,522.6 189.9,523.1 190.7,523.5 191.5,524.1 192.2,524.6 193.0,525.3 193.7,525.9 194.3,526.5 195.0,527.2 195.7,527.9 196.4,528.5 197.0,529.2 197.7,529.9 198.4,530.5 199.0,531.2 199.7,531.9 200.3,532.6 201.0,533.3 201.6,534.0 202.3,534.6 202.9,535.3 203.6,536.0 204.2,536.7 204.9,537.4 205.5,538.2 206.1,538.9 206.7,539.6 207.3,540.4 207.8,541.2 208.4,542.0 208.9,542.7 209.5,543.5 210.2,544.2 210.8,545.0 211.4,545.7 212.1,546.4 212.7,547.1 213.4,547.9 214.0,548.6 214.6,549.4 215.1,550.2 215.6,551.1 216.0,551.9 216.6,552.7 217.1,553.5 217.6,554.3 218.1,555.2 218.6,556.0 219.1,556.9 219.6,557.7 220.1,558.6 220.6,559.4 221.1,560.2 221.7,561.0 222.3,561.8 222.8,562.6 223.3,563.5 223.8,564.3 224.3,565.2 224.8,566.0 225.3,566.9 225.8,567.7 226.2,568.6 226.7,569.5 227.1,570.3 227.5,571.2 227.9,572.1 228.3,573.0 228.7,573.9 229.1,574.8 229.5,575.7 229.9,576.6 230.3,577.6 230.6,578.5 230.9,579.4 231.3,580.4 231.7,581.3 232.1,582.2 232.6,583.0 233.0,583.9 233.5,584.8 234.0,585.6 234.5,586.5 235.0,587.4 235.5,588.2 236.0,589.1 236.5,590.0 236.9,590.8 237.3,591.7 237.7,592.7 238.1,593.6 238.5,594.5 238.8,595.4 239.2,596.4 239.5,597.3 239.9,598.2 240.4,599.1 240.9,599.9 241.3,600.8 241.6,601.8 241.9,602.8 242.1,603.8 242.3,604.7 242.6,605.7 242.8,606.7 243.1,607.6 243.4,608.6 243.7,609.5 244.0,610.5 244.4,611.4 244.7,612.4 245.1,613.3 245.4,614.2 245.8,615.2 246.2,616.1 246.6,617.0 247.1,617.9 247.6,618.7 248.1,619.6 248.6,620.5 249.1,621.3 249.6,622.2 250.0,623.1 250.5,624.0 250.9,624.9 251.3,625.8 251.6,626.8 252.0,627.7 252.3,628.6 252.7,629.6 253.0,630.5 253.4,631.5 253.8,632.4 254.2,633.3 254.6,634.2 255.0,635.1 255.4,636.1 255.7,637.0 256.1,637.9 256.4,638.9 256.7,639.8 257.1,640.8 257.4,641.7 257.8,642.7 258.1,643.6 258.5,644.6 258.9,645.5 259.3,646.4 259.8,647.3 260.3,648.2 260.8,649.0 261.2,649.9 261.6,650.9 262.0,651.8 262.4,652.7 262.8,653.7 263.1,654.6 263.5,655.5 263.8,656.5 264.2,657.5 264.5,658.4 264.9,659.4 265.3,660.3 265.7,661.2 266.2,662.1 266.7,663.0 267.2,663.8 267.6,664.7 268.1,665.6 268.5,666.6 269.0,667.5 269.5,668.3 270.0,669.2 270.6,670.0 271.2,670.9 271.7,671.8 272.1,672.7 272.6,673.6 273.0,674.5 273.4,675.5 273.9,676.4 274.3,677.3 274.8,678.2 275.2,679.1 275.6,680.1 276.0,681.0 276.4,681.9 276.8,682.9 277.2,683.8 277.7,684.7 278.2,685.7 278.7,686.5 279.3,687.4 279.9,688.2 280.5,689.0 281.1,689.9 281.7,690.7 282.3,691.6 282.8,692.5 283.4,693.4 283.9,694.2 284.4,695.1 285.0,696.0 285.5,696.9 286.1,697.7 286.7,698.6 287.3,699.4 287.9,700.3 288.5,701.1 289.1,702.0 289.7,702.8 290.3,703.7 290.9,704.6 291.4,705.5 292.0,706.4 292.6,707.2 293.3,708.0 294.1,708.8 294.8,709.5 295.6,710.2 296.3,711.0 297.1,711.7 297.9,712.5 298.6,713.2 299.4,713.9 300.2,714.6 301.0,715.3 301.8,716.0 302.6,716.8 303.3,717.5 304.1,718.2 305.0,718.9 305.8,719.6 306.7,720.1 307.6,720.8 308.5,721.4 309.4,722.0 310.2,722.6 311.1,723.2 312.1,723.8 313.0,724.3 314.0,724.8 314.9,725.3 315.9,725.8 316.8,726.4 317.8,727.0 318.7,727.5 319.6,728.1 320.5,728.8 321.5,729.4 322.5,729.9 323.5,730.3 324.6,730.7 325.6,731.0 326.7,731.3 327.8,731.6 328.9,731.8 329.9,732.1 331.0,732.2 332.1,732.4 333.2,732.5 334.3,732.5 335.4,732.6 336.5,732.6 337.7,732.6 338.8,732.6 339.9,732.6 340.9,732.6 342.0,732.7 343.2,732.7 344.3,732.8 345.4,732.7 346.5,732.6 347.6,732.5 348.7,732.4 349.8,732.2 350.9,732.1 352.0,731.9 353.1,731.7 354.2,731.4 355.2,731.1 356.3,730.7 357.3,730.3 358.4,729.9 359.4,729.5 360.5,729.1 361.5,728.7 362.5,728.3 363.6,727.9 364.6,727.5 365.6,727.0 366.6,726.6 367.6,726.1 368.6,725.6 369.5,725.1 370.5,724.5 371.4,723.9 372.3,723.3 373.1,722.6 374.0,721.9 374.8,721.2 375.6,720.5 376.4,719.8 377.2,719.1 378.0,718.5 378.9,717.8 379.8,717.2 380.6,716.6 381.5,716.0 382.4,715.3 383.2,714.6 383.9,713.9 384.7,713.1 385.3,712.3 386.0,711.5 386.6,710.6 387.2,709.8 387.8,708.9 388.4,708.0 389.0,707.2 389.6,706.4 390.3,705.6 390.9,704.8 391.6,703.9 392.2,703.1 392.8,702.3 393.5,701.5 394.1,700.7 394.7,699.9 395.3,699.0 395.9,698.2 396.5,697.3 397.1,696.5 397.7,695.7 398.3,694.9 398.9,694.1 399.6,693.3 400.2,692.5 400.9,691.7 401.6,690.9 402.3,690.2 403.0,689.4 403.7,688.6 404.3,687.8 404.9,687.0 405.4,686.1 406.0,685.2 406.6,684.4 407.1,683.5 407.8,682.7 408.4,681.9 409.0,681.0 409.6,680.2 410.2,679.4 410.9,678.6 411.5,677.7 412.1,676.9 412.8,676.1 413.4,675.3 414.0,674.5 414.6,673.6 415.2,672.7 415.7,671.9 416.3,671.0 416.9,670.1 417.4,669.3 418.0,668.4 418.5,667.5 419.0,666.6 419.4,665.6 419.8,664.7 420.3,663.8 420.7,662.9 421.2,662.0 421.6,661.0 422.0,660.1 422.4,659.1 422.8,658.2 423.2,657.2 423.6,656.3 424.0,655.4 424.5,654.5 425.0,653.6 425.4,652.6 425.7,651.7 426.1,650.7 426.4,649.7 426.7,648.8 427.1,647.8 427.5,646.9 427.8,645.9 428.2,645.0 428.6,644.1 429.1,643.1 429.5,642.2 429.9,641.3 430.4,640.4 430.8,639.5 431.3,638.6 431.7,637.6 432.2,636.7 432.7,635.8 433.1,634.9 433.5,634.0 433.9,633.1 434.2,632.1 434.6,631.2 435.0,630.2 435.4,629.3 435.9,628.4 436.3,627.5 436.7,626.6 437.1,625.6 437.4,624.7 437.7,623.8 438.1,622.8 438.4,621.9 438.8,620.9 439.1,620.0 439.3,619.0 439.5,618.0 439.7,617.0 440.0,616.0 440.2,615.0 440.6,614.1 440.9,613.1 441.3,612.2 441.8,611.3 442.3,610.5 442.8,609.6 443.3,608.7 443.8,607.8 444.2,606.9 444.7,606.0 445.1,605.1 445.4,604.2 445.7,603.2 445.8,602.2 446.0,601.2 446.3,600.2 446.5,599.3 446.9,598.3 447.2,597.4 447.6,596.5 448.0,595.6 448.5,594.7 448.9,593.8 449.4,592.9 449.8,592.0 450.2,591.1 450.6,590.2 450.9,589.3 451.3,588.4 451.6,587.5 452.0,586.5 452.2,585.6 452.5,584.6 452.7,583.6 453.0,582.7 453.3,581.7 453.6,580.8 454.1,579.9 454.5,579.0 454.9,578.1 455.2,577.2 455.6,576.3 455.9,575.4 456.3,574.5 456.7,573.6 457.0,572.7 457.4,571.8 457.7,570.9 458.1,570.0 458.5,569.1 458.9,568.2 459.2,567.3 459.5,566.3 459.7,565.3 460.0,564.4 460.4,563.5 460.8,562.6 461.3,561.8 461.8,561.0 462.3,560.1 462.7,559.3 463.1,558.4 463.6,557.5 464.0,556.7 464.5,555.8 465.0,555.0 465.6,554.2 466.1,553.4 466.6,552.6 467.2,551.9 467.7,551.1 468.3,550.3 468.8,549.5 469.4,548.7 469.9,547.9 470.5,547.2 471.0,546.4 471.6,545.6 472.1,544.8 472.7,544.1 473.3,543.4 474.0,542.7 474.6,542.0 475.2,541.3 475.8,540.5 476.3,539.7 476.8,538.9 477.4,538.2 478.0,537.5 478.6,536.7 479.2,536.0 479.8,535.3 480.4,534.6 481.0,533.9 481.6,533.2 482.2,532.5 482.9,531.8 483.5,531.1 484.2,530.4 484.8,529.8 485.5,529.1 486.1,528.4 486.8,527.7 487.5,527.1 488.3,526.6 489.2,526.2 490.0,525.7 490.8,525.2 491.5,524.7 492.3,524.1 493.0,523.5 493.8,523.0 494.6,522.5 495.4,522.0 496.2,521.5 497.0,521.1 497.8,520.7 498.7,520.3 499.5,519.8 500.3,519.4 501.2,519.0 502.0,518.5 502.8,518.1 503.7,517.7 504.5,517.3 505.4,516.9 506.3,516.6 507.2,516.3 508.1,516.0 509.0,515.8 509.9,515.6 510.8,515.4 511.7,515.1 512.6,514.9 513.6,514.7 514.5,514.5 515.4,514.3 516.3,514.1 517.2,514.0 518.1,513.9 519.1,513.8 520.0,513.7 520.9,513.5 521.8,513.4 522.7,513.2 523.6,513.0 524.6,512.9 525.5,512.9 526.4,512.9 527.3,513.0 528.2,513.1 529.1,513.1 530.1,513.1 531.0,513.1 531.9,513.1 532.8,513.2 533.7,513.4 534.6,513.6 535.4,513.8 536.3,514.0 537.2,514.1 538.1,514.3 539.0,514.5 539.9,514.6 540.7,514.9 541.6,515.1 542.5,515.4 543.3,515.7 544.2,516.0 545.0,516.4 545.9,516.8 546.7,517.2 547.5,517.6 548.3,518.0 549.1,518.5 549.9,518.9 550.7,519.4 551.5,519.9 552.2,520.4 553.0,520.9 553.8,521.4 554.6,521.9 555.4,522.4 556.1,523.0 556.8,523.6 557.5,524.3 558.2,524.9 558.8,525.6 559.5,526.3 560.1,527.0 560.7,527.7 561.3,528.4 562.0,529.1 562.6,529.8 563.2,530.5 563.9,531.2 564.5,531.9 565.2,532.6 565.8,533.3 566.4,534.0 567.1,534.7 567.7,535.4 568.3,536.1 569.0,536.8 569.6,537.5 570.3,538.2 570.9,538.9 571.5,539.6 572.1,540.4 572.6,541.2 573.2,542.0 573.8,542.7 574.5,543.4 575.2,544.1 575.9,544.8 576.5,545.5 577.2,546.2 577.8,547.0 578.4,547.7 579.0,548.5 579.6,549.3 580.2,550.0 580.8,550.8 581.3,551.6 581.8,552.4 582.4,553.3 582.9,554.1 583.4,554.9 584.0,555.7 584.5,556.5 585.0,557.4 585.5,558.2 586.0,559.1 586.4,560.0 586.9,560.8 587.3,561.7 587.8,562.5 588.4,563.4 588.8,564.2 589.3,565.1 589.8,565.9 590.2,566.8 590.6,567.7 591.0,568.6 591.4,569.5 591.8,570.5 592.2,571.4 592.6,572.2 593.1,573.1 593.7,573.9 594.2,574.7 594.8,575.5 595.2,576.4 595.7,577.3 596.1,578.2 596.5,579.1 596.9,580.0 597.3,580.9 597.7,581.8 598.1,582.7 598.5,583.6 598.8,584.5 599.3,585.4 599.7,586.3 600.1,587.2 600.6,588.0 601.0,588.9 601.4,589.8 601.8,590.7 602.2,591.6 602.5,592.6 602.9,593.5 603.3,594.4 603.6,595.3 604.0,596.2 604.4,597.1 604.9,598.0 605.3,598.9 605.7,599.8 606.1,600.7 606.4,601.6 606.8,602.6 607.1,603.5 607.4,604.5 607.6,605.4 607.9,606.4 608.1,607.4 608.5,608.3 608.9,609.2 609.3,610.1 609.8,611.0 610.2,611.9 610.5,612.8 610.9,613.7 611.3,614.7 611.6,615.6 612.0,616.5 612.4,617.4 612.8,618.3 613.1,619.3 613.4,620.2 613.7,621.2 614.0,622.2 614.4,623.1 614.8,624.0 615.3,624.8 615.8,625.7 616.2,626.6 616.5,627.6 616.8,628.5 617.2,629.5 617.5,630.4 617.8,631.4 618.2,632.3 618.6,633.3 618.9,634.2 619.2,635.1 619.6,636.1 619.9,637.0 620.3,638.0 620.6,638.9 621.0,639.8 621.4,640.8 621.8,641.7 622.1,642.6 622.5,643.6 622.9,644.5 623.4,645.4 623.8,646.3 624.4,647.2 624.9,648.0 625.3,649.0 625.6,649.9 625.9,650.9 626.3,651.8 626.6,652.8 627.0,653.7 627.5,654.6 627.9,655.5 628.4,656.4 628.8,657.3 629.2,658.3 629.6,659.2 630.0,660.1 630.3,661.1 630.7,662.1 631.1,663.0 631.5,663.9 631.9,664.8 632.5,665.7 633.0,666.6 633.5,667.5 634.0,668.4 634.5,669.3 635.0,670.2 635.4,671.1 635.9,672.0 636.2,673.0 636.7,673.9 637.1,674.8 637.6,675.7 638.1,676.6 638.6,677.5 639.1,678.4 639.5,679.4 640.0,680.3 640.4,681.2 640.8,682.2 641.3,683.1 641.7,684.0 642.2,684.9 642.7,685.8 643.3,686.7 643.8,687.6 644.3,688.5 644.9,689.4 645.4,690.3 645.9,691.2 646.5,692.1 647.1,692.9 647.8,693.7 648.5,694.5 649.2,695.3 649.9,696.1 650.6,696.8 651.3,697.6 652.0,698.4 652.7,699.2 653.3,700.1 653.9,700.9 654.5,701.8 655.1,702.6 655.7,703.5 656.4,704.3 657.0,705.2 657.7,706.0 658.3,706.8 659.0,707.6 659.7,708.4 660.4,709.2 661.1,710.0 661.8,710.8 662.6,711.6 663.3,712.3 664.2,713.0 665.0,713.6 665.9,714.3 666.7,714.9 667.6,715.5 668.5,716.2 669.3,716.8 670.1,717.5 670.9,718.3 671.6,719.1 672.4,719.8 673.2,720.5 674.1,721.2 675.0,721.8 675.9,722.4 676.8,723.0 677.7,723.5 678.6,724.1 679.5,724.7 680.4,725.3 681.4,725.8 682.3,726.3 683.3,726.8 684.3,727.2 685.3,727.7 686.3,728.1 687.3,728.5 688.3,728.9 689.4,729.2 690.4,729.4 691.5,729.7 692.5,730.0 693.6,730.3 694.6,730.6 695.7,730.9 696.7,731.2 697.8,731.5 698.9,731.7 699.9,731.9 701.0,732.2 702.1,732.4 703.2,732.6 704.3,732.8 705.4,733.0 706.5,733.1 707.6,733.2 708.7,733.2 709.8,733.2 710.9,733.1 712.1,732.9 713.2,732.8 714.3,732.6 715.4,732.5 716.5,732.4 717.6,732.2 718.7,732.1 719.7,731.8 720.8,731.6 721.9,731.3 722.9,731.0 724.0,730.6 725.0,730.3 726.0,729.9 727.0,729.5 728.0,729.1 729.0,728.6 730.0,728.1 731.0,727.7 732.0,727.3 733.0,727.0 734.0,726.6 735.0,726.1 735.9,725.6 736.8,725.0 737.7,724.3 738.6,723.7 739.4,723.1 740.3,722.5 741.2,721.8 742.0,721.2 742.9,720.6 743.7,719.9 744.6,719.3 745.4,718.6 746.3,718.0 747.2,717.4 748.0,716.8 748.8,716.1 749.7,715.4 750.4,714.7 751.2,714.0 752.0,713.2 752.7,712.5 753.4,711.7 754.2,711.0 754.9,710.2 755.7,709.5 756.5,708.8 757.2,708.0 757.9,707.3 758.7,706.5 759.3,705.7 760.0,704.9 760.7,704.1 761.5,703.4 762.2,702.6 762.9,701.8 763.5,701.0 764.1,700.1 764.7,699.3 765.3,698.4 765.9,697.5 766.5,696.7 767.1,695.9 767.8,695.0 768.4,694.2 769.0,693.4 769.7,692.6 770.3,691.7 771.0,690.9 771.6,690.1 772.2,689.3 772.8,688.4 773.3,687.5 773.7,686.5 774.1,685.6 774.5,684.6 774.9,683.6 775.4,682.7 775.8,681.8 776.3,680.9 776.8,680.0 777.2,679.1 777.7,678.1 778.1,677.2 778.7,676.4 779.2,675.5 779.8,674.6 780.3,673.7 780.8,672.9 781.3,671.9 781.7,671.0 782.1,670.1 782.6,669.2 783.1,668.3 783.6,667.4 784.1,666.5 784.5,665.6 785.0,664.7 785.5,663.8 785.9,662.9 786.3,662.0 786.7,661.0 787.1,660.1 787.5,659.2 787.9,658.2 788.3,657.3 788.7,656.4 789.1,655.5 789.5,654.5 789.9,653.6 790.3,652.7 790.7,651.8 791.1,650.9 791.4,649.9 791.7,649.0 792.1,648.0 792.5,647.1 792.8,646.1 793.3,645.2 793.7,644.3 794.1,643.4 794.5,642.5 795.0,641.6 795.4,640.7 795.9,639.8 796.3,638.9 796.8,638.0 797.2,637.1 797.6,636.2 798.0,635.2 798.4,634.3 798.8,633.4" fill="none" stroke="#fff" stroke-width="1.15" stroke-dasharray="8 0.9 5 0.8 11 0.9" stroke-dashoffset="6"/>
<polyline points="798.8,633.4 799.1,632.4 799.4,631.5 799.7,630.5 800.0,629.5 800.3,628.6 800.6,627.6 801.0,626.7 801.3,625.7 801.7,624.8 802.1,623.9 802.4,623.0 802.8,622.0 803.2,621.1 803.6,620.2 804.0,619.3 804.4,618.3 804.8,617.4 805.3,616.5 805.7,615.6 806.1,614.7 806.5,613.8 806.9,612.8 807.2,611.9 807.6,611.0 808.0,610.1 808.4,609.2 808.9,608.3 809.3,607.3 809.6,606.4 810.0,605.5 810.3,604.5 810.6,603.5 810.9,602.6 811.2,601.6 811.5,600.7 811.9,599.8 812.2,598.8 812.6,597.9 813.0,597.0 813.4,596.0 813.8,595.1 814.3,594.2 814.8,593.4 815.2,592.5 815.6,591.5 815.9,590.6 816.2,589.6 816.6,588.7 816.9,587.8 817.3,586.8 817.7,585.9 818.0,585.0 818.4,584.0 818.7,583.1 818.9,582.1 819.2,581.1 819.5,580.2 819.9,579.3 820.2,578.3 820.6,577.4 820.9,576.5 821.2,575.5 821.5,574.5 821.8,573.6 822.1,572.6 822.5,571.7 822.9,570.8 823.3,569.9 823.8,569.0 824.3,568.1 824.8,567.3 825.3,566.4 825.7,565.5 826.0,564.6 826.4,563.7 826.7,562.7 827.0,561.8 827.4,560.9 827.7,560.0 828.1,559.1 828.5,558.2 828.9,557.3 829.3,556.4 829.7,555.6 830.1,554.7 830.6,553.8 831.0,552.9 831.4,552.1 831.8,551.2 832.3,550.4 832.7,549.5 833.2,548.6 833.6,547.8 834.0,546.9 834.3,546.0 834.7,545.1 835.1,544.2 835.4,543.3 835.8,542.5 836.3,541.6 836.7,540.8 837.2,540.0 837.7,539.2 838.2,538.4 838.7,537.6 839.2,536.7 839.7,535.9 840.2,535.1 840.7,534.3 841.2,533.5 841.7,532.7 842.3,532.0 842.9,531.3 843.5,530.6 844.2,529.9 844.9,529.3 845.5,528.6 846.2,528.0 846.8,527.3 847.5,526.7 848.2,526.1 848.9,525.5 849.6,524.9 850.3,524.3 851.0,523.8 851.7,523.1 852.3,522.5 853.0,521.9 853.8,521.4 854.5,520.9 855.4,520.5 856.2,520.1 857.0,519.7 857.8,519.3 858.6,519.0 859.4,518.5 860.2,518.1 861.0,517.7 861.8,517.2 862.6,516.8 863.4,516.3 864.2,515.9 865.1,515.6 865.9,515.2 866.8,514.8 867.6,514.5 868.5,514.2 869.4,513.9 870.3,513.6 871.2,513.4 872.1,513.2 873.0,512.9 873.9,512.6 874.8,512.3 875.7,511.9 876.6,511.5 877.5,511.2 878.5,511.0 879.4,510.8 880.4,510.7 881.3,510.6 882.3,510.5" fill="none" stroke="#1c1c1c" stroke-width="3.1" stroke-linejoin="round"/>
<polyline points="798.8,633.4 799.1,632.4 799.4,631.5 799.7,630.5 800.0,629.5 800.3,628.6 800.6,627.6 801.0,626.7 801.3,625.7 801.7,624.8 802.1,623.9 802.4,623.0 802.8,622.0 803.2,621.1 803.6,620.2 804.0,619.3 804.4,618.3 804.8,617.4 805.3,616.5 805.7,615.6 806.1,614.7 806.5,613.8 806.9,612.8 807.2,611.9 807.6,611.0 808.0,610.1 808.4,609.2 808.9,608.3 809.3,607.3 809.6,606.4 810.0,605.5 810.3,604.5 810.6,603.5 810.9,602.6 811.2,601.6 811.5,600.7 811.9,599.8 812.2,598.8 812.6,597.9 813.0,597.0 813.4,596.0 813.8,595.1 814.3,594.2 814.8,593.4 815.2,592.5 815.6,591.5 815.9,590.6 816.2,589.6 816.6,588.7 816.9,587.8 817.3,586.8 817.7,585.9 818.0,585.0 818.4,584.0 818.7,583.1 818.9,582.1 819.2,581.1 819.5,580.2 819.9,579.3 820.2,578.3 820.6,577.4 820.9,576.5 821.2,575.5 821.5,574.5 821.8,573.6 822.1,572.6 822.5,571.7 822.9,570.8 823.3,569.9 823.8,569.0 824.3,568.1 824.8,567.3 825.3,566.4 825.7,565.5 826.0,564.6 826.4,563.7 826.7,562.7 827.0,561.8 827.4,560.9 827.7,560.0 828.1,559.1 828.5,558.2 828.9,557.3 829.3,556.4 829.7,555.6 830.1,554.7 830.6,553.8 831.0,552.9 831.4,552.1 831.8,551.2 832.3,550.4 832.7,549.5 833.2,548.6 833.6,547.8 834.0,546.9 834.3,546.0 834.7,545.1 835.1,544.2 835.4,543.3 835.8,542.5 836.3,541.6 836.7,540.8 837.2,540.0 837.7,539.2 838.2,538.4 838.7,537.6 839.2,536.7 839.7,535.9 840.2,535.1 840.7,534.3 841.2,533.5 841.7,532.7 842.3,532.0 842.9,531.3 843.5,530.6 844.2,529.9 844.9,529.3 845.5,528.6 846.2,528.0 846.8,527.3 847.5,526.7 848.2,526.1 848.9,525.5 849.6,524.9 850.3,524.3 851.0,523.8 851.7,523.1 852.3,522.5 853.0,521.9 853.8,521.4 854.5,520.9 855.4,520.5 856.2,520.1 857.0,519.7 857.8,519.3 858.6,519.0 859.4,518.5 860.2,518.1 861.0,517.7 861.8,517.2 862.6,516.8 863.4,516.3 864.2,515.9 865.1,515.6 865.9,515.2 866.8,514.8 867.6,514.5 868.5,514.2 869.4,513.9 870.3,513.6 871.2,513.4 872.1,513.2 873.0,512.9 873.9,512.6 874.8,512.3 875.7,511.9 876.6,511.5 877.5,511.2 878.5,511.0 879.4,510.8 880.4,510.7 881.3,510.6 882.3,510.5" fill="none" stroke="#fff" stroke-width="1.05" stroke-dasharray="8 0.9 5 0.8 11 0.9" stroke-dashoffset="6"/>
<polyline points="136.7,515.5 137.6,515.2 138.6,514.9 139.5,514.7 140.5,514.5 141.4,514.3 142.3,514.1 143.3,513.9 144.3,513.8 145.2,513.6 146.1,513.4 147.1,513.1 148.0,512.9 149.0,512.8 149.9,512.7 150.9,512.7 151.8,512.7 152.8,512.7 153.8,512.7 154.7,512.8 155.7,512.8 156.6,512.8 157.5,512.8 158.5,512.8 159.4,512.7 160.4,512.7 161.3,512.6 162.3,512.6 163.2,512.6 164.1,512.6" fill="none" stroke="#1c1c1c" stroke-width="1.0"/>
<polyline points="137.4,517.8 138.4,517.5 139.3,517.2 140.2,517.0 141.1,516.8 142.0,516.6 142.9,516.4 143.9,516.3 144.8,516.1 145.7,515.9 146.6,515.7 147.5,515.5 148.4,515.3 149.3,515.2 150.3,515.1 151.2,515.1 152.1,515.1 153.0,515.1 154.0,515.1 154.9,515.2 155.8,515.2 156.7,515.2 157.6,515.2 158.5,515.2 159.4,515.1 160.3,515.1 161.2,515.0 162.1,515.0 163.0,515.0 163.9,515.0" fill="none" stroke="#1c1c1c" stroke-width="1.0"/>
<polyline points="879.2,509.6 880.2,509.5 881.2,509.4 882.1,509.3 883.1,509.2 884.1,509.2 885.1,509.1 886.0,509.1 887.0,509.2 888.0,509.2 889.0,509.2 889.9,509.2 890.9,509.2 891.9,509.2 892.9,509.2 893.8,509.2 894.8,509.2 895.8,509.2 896.8,509.2 897.7,509.1 898.7,509.1 899.7,509.0 900.7,509.0 901.6,509.0 902.6,509.0 903.6,509.0 904.6,509.0 905.6,508.9 906.6,508.9 907.6,508.9 908.6,508.9 909.5,508.8 910.5,508.8 911.5,508.9" fill="none" stroke="#1c1c1c" stroke-width="1.0"/>
<polyline points="879.6,512.0 880.5,511.9 881.5,511.7 882.4,511.7 883.4,511.6 884.3,511.5 885.3,511.5 886.2,511.5 887.2,511.6 888.1,511.6 889.1,511.6 890.0,511.6 891.0,511.6 891.9,511.6 892.9,511.6 893.9,511.6 894.8,511.6 895.8,511.6 896.7,511.6 897.7,511.5 898.6,511.5 899.6,511.4 900.5,511.4 901.5,511.4 902.5,511.4 903.4,511.4 904.4,511.3 905.4,511.3 906.3,511.3 907.3,511.3 908.3,511.2 909.2,511.2 910.2,511.2 911.2,511.2" fill="none" stroke="#1c1c1c" stroke-width="1.0"/>
<polyline points="135.9,512.9 136.8,512.6 137.8,512.3 138.8,512.1 139.7,511.8 140.7,511.5 141.6,511.3 142.6,511.0 143.6,510.8 144.6,510.6 145.5,510.4 146.5,510.2 147.5,510.0 148.5,509.9 149.5,509.7 150.5,509.6 151.5,509.5 152.5,509.4 153.5,509.3 154.5,509.2 155.5,509.1 156.5,509.1 157.5,509.1 158.5,509.0 159.5,509.0 160.5,509.1 161.5,509.1 162.5,509.1 163.5,509.2 164.5,509.3 165.4,509.4 166.4,509.5 167.4,509.6 168.4,509.8 169.4,510.0 170.4,510.1" fill="none" stroke="#1c1c1c" stroke-width="1.0"/>
<polyline points="873.0,508.2 874.0,508.0 874.9,507.8 875.9,507.6 876.9,507.5 877.9,507.3 878.9,507.1 879.9,507.0 880.9,506.9 881.8,506.7 882.8,506.6 883.8,506.5 884.8,506.4 885.8,506.4 886.8,506.3 887.8,506.2 888.8,506.2 889.8,506.1 890.8,506.1 891.8,506.1 892.8,506.0 893.8,506.0 894.8,506.0 895.8,506.0 896.8,506.0 897.8,506.1 898.8,506.1 899.8,506.1 900.8,506.2 901.8,506.2 902.8,506.3 903.8,506.4 904.8,506.5 905.8,506.5 906.8,506.6 907.8,506.7 908.8,506.9 909.8,507.0 910.8,507.1 911.8,507.2" fill="none" stroke="#1c1c1c" stroke-width="1.0"/>
<polyline points="181.3,512.2 182.2,512.7 183.1,513.2 184.0,513.8 184.9,514.3 185.7,514.9 186.6,515.4 187.4,516.0 188.2,516.6 189.0,517.2 189.8,517.8 190.6,518.4 191.4,519.1 192.2,519.7 192.9,520.4 193.7,521.0 194.4,521.7 195.2,522.3 195.9,523.0 196.7,523.6 197.4,524.3 198.1,524.9 198.9,525.6 199.6,526.3 200.3,527.0 200.9,527.7 201.6,528.5 202.3,529.2 202.9,530.0 203.5,530.8 204.1,531.5 204.7,532.3 205.3,533.1 206.0,533.9 206.6,534.6 207.2,535.4 207.8,536.2 208.4,536.9 209.0,537.7 209.6,538.5 210.2,539.3 210.7,540.1 211.2,540.9 211.8,541.8 212.3,542.6 212.8,543.5 213.3,544.3 213.7,545.2 214.2,546.0 214.7,546.9 215.2,547.8 215.7,548.6 216.2,549.5 216.7,550.3 217.1,551.2 217.6,552.0 218.1,552.9 218.6,553.7 219.1,554.6 219.6,555.4 220.1,556.3" fill="none" stroke="#1c1c1c" stroke-width="1.0"/>
<polyline points="238.4,585.8 239.0,586.6 239.5,587.5 240.1,588.3 240.7,589.1 241.2,590.0 241.8,590.8 242.4,591.7 242.9,592.5 243.5,593.3 244.0,594.2 244.5,595.1 245.1,595.9 245.6,596.8 246.1,597.7 246.6,598.5 247.1,599.4 247.6,600.3 248.0,601.2 248.5,602.1 248.9,603.0 249.3,603.9 249.8,604.8 250.3,605.7 250.8,606.5 251.3,607.4 251.9,608.2 252.5,609.1 253.1,609.9 253.7,610.7 254.3,611.6 254.9,612.4 255.4,613.3 255.9,614.2 256.3,615.1 256.8,616.0 257.1,616.9 257.5,617.8 257.8,618.8 258.2,619.7 258.6,620.6 259.0,621.5 259.5,622.4 259.9,623.3 260.4,624.2 260.9,625.1 261.4,626.0 261.8,626.9 262.3,627.8 262.7,628.7 263.1,629.6" fill="none" stroke="#1c1c1c" stroke-width="1.0"/>
<polyline points="266.9,637.7 267.2,638.7 267.6,639.6 267.9,640.6 268.2,641.5 268.5,642.5 268.8,643.4 269.1,644.4 269.4,645.3 269.7,646.3 269.9,647.3 270.2,648.2 270.5,649.2 270.8,650.1 271.1,651.1 271.4,652.1 271.7,653.0 272.0,654.0 272.3,654.9 272.6,655.9 272.9,656.8 273.3,657.8 273.6,658.7 273.9,659.7 274.2,660.6 274.5,661.6 274.8,662.5 275.1,663.5 275.4,664.5 275.7,665.5 276.0,666.4 276.3,667.4 276.6,668.3 276.9,669.3 277.2,670.2 277.5,671.2 277.9,672.1 278.2,673.1 278.6,674.0 279.0,674.9 279.3,675.9 279.7,676.8 280.1,677.7 280.5,678.7 280.9,679.6 281.2,680.5" fill="none" stroke="#1c1c1c" stroke-width="1.0"/>
<polyline points="372.6,715.2 373.5,714.6 374.3,714.0 375.1,713.5 375.9,712.9 376.7,712.2 377.5,711.6 378.2,711.0 379.0,710.4 379.8,709.7 380.6,709.1 381.3,708.4 382.1,707.8 382.9,707.1 383.6,706.4 384.4,705.8 385.2,705.1 385.9,704.5 386.7,703.8 387.5,703.2 388.3,702.5 389.1,701.8 389.8,701.2 390.6,700.5 391.3,699.7 392.0,699.0 392.7,698.2 393.3,697.5 393.9,696.7 394.5,695.9 395.1,695.1 395.8,694.2 396.4,693.4 397.0,692.6 397.6,691.9 398.3,691.1 398.9,690.3 399.5,689.5 400.2,688.7 400.8,687.9 401.5,687.1 402.1,686.4 402.8,685.6 403.4,684.8 404.1,684.0 404.8,683.2 405.4,682.4 406.1,681.6 406.7,680.9 407.4,680.1 408.1,679.3 408.7,678.5 409.4,677.7 410.1,676.9 410.7,676.1 411.3,675.3" fill="none" stroke="#1c1c1c" stroke-width="1.0"/>
<polyline points="394.3,685.8 394.8,685.0 395.3,684.2 395.9,683.3 396.4,682.5 396.9,681.7 397.5,680.9 398.0,680.1 398.6,679.3 399.2,678.5 399.8,677.7 400.4,676.9 401.0,676.2 401.7,675.4 402.3,674.7 402.9,673.9 403.5,673.1 404.1,672.3 404.6,671.4 405.1,670.6 405.6,669.7 406.1,668.9 406.6,668.0 407.0,667.1 407.5,666.2 408.0,665.4 408.4,664.5 408.9,663.6 409.4,662.8 409.8,661.9 410.3,661.0 410.8,660.2 411.3,659.3 411.9,658.5 412.4,657.7 413.0,656.8 413.5,656.0 414.1,655.2 414.7,654.3 415.3,653.5 415.9,652.7 416.5,651.9 417.0,651.1 417.6,650.2 418.2,649.4 418.8,648.6 419.4,647.7 420.0,646.9 420.6,646.1 421.2,645.2 421.7,644.4 422.3,643.5 422.8,642.7 423.4,641.8 423.9,641.0 424.4,640.1 424.9,639.2 425.4,638.3 425.9,637.4 426.4,636.6 426.8,635.7" fill="none" stroke="#1c1c1c" stroke-width="1.0"/>
<polyline points="452.0,580.1 452.3,579.2 452.5,578.2 452.8,577.2 453.0,576.3 453.2,575.3 453.4,574.3 453.7,573.3 453.9,572.4 454.2,571.4 454.6,570.5 454.9,569.6 455.3,568.7 455.7,567.8 456.1,566.9 456.5,566.0 456.9,565.0 457.3,564.1 457.6,563.2 457.9,562.2 458.2,561.3 458.6,560.3 458.9,559.4 459.2,558.4 459.5,557.5 459.8,556.5 460.1,555.6 460.4,554.6 460.8,553.7 461.1,552.7 461.4,551.8 461.8,550.8 462.2,549.9 462.6,548.9 463.0,548.0 463.4,547.1 463.8,546.2 464.2,545.2 464.7,544.3 465.1,543.4 465.6,542.5 466.1,541.6 466.6,540.8 467.1,539.9 467.6,539.0 468.2,538.1" fill="none" stroke="#1c1c1c" stroke-width="1.0"/>
<polyline points="557.6,519.3 558.5,519.7 559.4,520.2 560.2,520.8 561.1,521.3 561.9,521.8 562.8,522.4 563.6,523.0 564.4,523.6 565.2,524.2 566.0,524.8 566.7,525.5 567.5,526.1 568.2,526.8 569.0,527.5 569.7,528.2 570.4,528.8 571.2,529.5 572.0,530.2 572.7,530.8 573.5,531.5 574.3,532.2 575.0,532.8 575.8,533.5 576.5,534.2 577.3,534.9 578.0,535.7 578.7,536.4 579.3,537.2 580.0,537.9 580.7,538.7 581.3,539.5 582.0,540.3 582.6,541.0 583.2,541.8 583.9,542.6 584.5,543.4 585.1,544.2 585.8,545.0 586.4,545.8 587.0,546.6 587.6,547.4 588.3,548.2 588.9,549.0 589.5,549.8 590.1,550.6 590.7,551.5 591.3,552.3 591.9,553.1 592.4,554.0 593.0,554.8" fill="none" stroke="#1c1c1c" stroke-width="1.0"/>
<polyline points="621.6,619.1 621.8,620.0 622.1,621.0 622.3,622.0 622.5,623.0 622.8,624.0 623.0,625.0 623.2,626.0 623.4,627.0 623.6,628.0 623.8,629.0 624.0,630.0 624.1,631.0 624.3,632.0 624.4,633.0 624.6,634.0 624.8,635.0 625.0,636.0 625.2,637.0 625.4,638.0 625.6,639.0 625.9,640.0 626.1,641.0 626.4,642.0 626.7,642.9 627.0,643.9 627.3,644.8 627.7,645.8 628.1,646.7 628.5,647.6 628.8,648.6 629.2,649.5 629.5,650.4 629.9,651.4 630.2,652.3 630.5,653.3 630.8,654.3 631.1,655.2 631.4,656.2 631.7,657.2 632.0,658.1 632.3,659.1 632.6,660.1 633.0,661.0 633.3,662.0 633.7,662.9" fill="none" stroke="#1c1c1c" stroke-width="1.0"/>
<polyline points="679.9,720.1 680.8,720.5 681.8,720.9 682.7,721.3 683.7,721.7 684.6,722.0 685.6,722.3 686.6,722.7 687.5,723.0 688.5,723.3 689.5,723.6 690.4,723.9 691.4,724.2 692.3,724.4 693.3,724.7 694.3,724.9 695.2,725.1 696.2,725.3 697.2,725.5 698.1,725.7 699.1,725.8 700.1,726.0 701.1,726.1 702.0,726.1 703.0,726.2 704.0,726.2 704.9,726.2 705.9,726.2 706.9,726.2 707.8,726.1 708.8,726.1 709.7,726.0 710.7,725.9 711.6,725.8 712.5,725.7 713.5,725.5 714.4,725.4 715.3,725.2 716.3,725.0 717.2,724.8 718.1,724.5 719.0,724.2 719.9,723.9 720.8,723.5 721.6,723.1 722.5,722.7 723.3,722.2 724.2,721.8 725.0,721.4 725.9,721.0 726.7,720.6" fill="none" stroke="#1c1c1c" stroke-width="1.0"/>
<polyline points="733.3,725.3 734.3,724.8 735.2,724.2 736.0,723.7 736.9,723.1 737.8,722.4 738.6,721.8 739.4,721.2 740.3,720.5 741.1,719.9 741.9,719.2 742.7,718.5 743.4,717.8 744.2,717.1 745.0,716.4 745.7,715.7 746.5,715.0 747.2,714.3 748.0,713.6 748.7,712.9 749.5,712.2 750.2,711.4 750.9,710.7 751.6,709.9 752.3,709.2 752.9,708.4 753.5,707.6 754.1,706.7 754.7,705.9 755.3,705.0 755.8,704.2 756.4,703.3 756.9,702.4 757.5,701.6 758.0,700.7 758.5,699.8 759.0,699.0 759.5,698.1 760.0,697.2 760.5,696.3 761.0,695.4 761.5,694.5 761.9,693.6 762.4,692.7 762.8,691.8 763.2,690.9 763.6,690.0 764.0,689.0 764.4,688.1 764.9,687.2 765.3,686.3 765.7,685.4 766.2,684.5 766.6,683.6 767.0,682.7 767.4,681.8" fill="none" stroke="#1c1c1c" stroke-width="1.0"/>
<polyline points="788.3,629.0 788.7,628.1 789.2,627.2 789.7,626.3 790.2,625.5 790.7,624.6 791.2,623.7 791.7,622.9 792.2,622.0 792.6,621.1 793.1,620.2 793.5,619.3 793.9,618.4 794.3,617.5 794.7,616.5 795.1,615.6 795.6,614.7 796.0,613.8 796.4,612.9 796.9,612.0 797.3,611.1 797.8,610.3 798.3,609.4 798.8,608.5 799.3,607.6 799.8,606.7 800.3,605.9 800.8,605.0 801.4,604.1 801.9,603.3 802.4,602.4 803.0,601.6 803.5,600.7 804.0,599.8 804.6,599.0 805.1,598.1 805.7,597.2 806.2,596.4 806.7,595.5 807.2,594.6 807.7,593.8 808.2,592.9 808.7,592.0 809.1,591.1 809.5,590.2 810.0,589.3 810.4,588.4 810.8,587.5 811.3,586.6 811.8,585.7 812.3,584.8" fill="none" stroke="#1c1c1c" stroke-width="1.0"/>
<polyline points="834.8,540.7 835.2,539.9 835.7,539.0 836.1,538.1 836.5,537.2 836.9,536.3 837.3,535.4 837.8,534.6 838.3,533.8 838.9,533.0 839.5,532.2 840.1,531.5 840.7,530.7 841.4,530.1 842.1,529.4 842.7,528.6 843.4,527.9 843.9,527.2 844.5,526.4 845.1,525.6 845.6,524.8 846.1,523.9 846.7,523.1 847.3,522.3 847.9,521.5 848.6,520.8 849.3,520.1 850.0,519.5 850.8,518.8 851.6,518.3 852.3,517.7 853.1,517.1 853.9,516.4 854.7,515.8 855.5,515.2 856.2,514.5 857.0,513.9 857.8,513.2 858.6,512.6 859.5,512.0 860.3,511.5 861.2,511.0 862.1,510.5 863.0,510.1 864.0,509.7 864.9,509.3" fill="none" stroke="#1c1c1c" stroke-width="1.0"/>
<g transform="translate(181.4,512.2) rotate(22.1)"><rect x="-11" y="-3" width="22" height="6" fill="#fff" stroke="#1a1a1a" stroke-width="1.1"/><rect x="-9.5" y="-1.9" width="14" height="3.8" fill="#fff" stroke="#1a1a1a" stroke-width="0.8"/><path d="M-8.2,-0.9 h2.2 v1.8 h-2.2 z M-4.9,-0.9 h2.2 v1.8 h-2.2 z M-1.6,-0.9 h2.2 v1.8 h-2.2 z M1.7,-0.9 h2.2 v1.8 h-2.2 z" fill="#333"/><rect x="5.5" y="-2" width="4" height="4" fill="#fff" stroke="#1a1a1a" stroke-width="0.9"/></g>
<g transform="translate(240.8,584.7) rotate(65.0)"><rect x="-11" y="-3" width="22" height="6" fill="#fff" stroke="#1a1a1a" stroke-width="1.1"/><rect x="-9.5" y="-1.9" width="14" height="3.8" fill="#fff" stroke="#1a1a1a" stroke-width="0.8"/><path d="M-8.2,-0.9 h2.2 v1.8 h-2.2 z M-4.9,-0.9 h2.2 v1.8 h-2.2 z M-1.6,-0.9 h2.2 v1.8 h-2.2 z M1.7,-0.9 h2.2 v1.8 h-2.2 z" fill="#333"/><rect x="5.5" y="-2" width="4" height="4" fill="#fff" stroke="#1a1a1a" stroke-width="0.9"/></g>
<g transform="translate(282.8,679.7) rotate(62.0)"><rect x="-11" y="-3" width="22" height="6" fill="#fff" stroke="#1a1a1a" stroke-width="1.1"/><rect x="-9.5" y="-1.9" width="14" height="3.8" fill="#fff" stroke="#1a1a1a" stroke-width="0.8"/><path d="M-8.2,-0.9 h2.2 v1.8 h-2.2 z M-4.9,-0.9 h2.2 v1.8 h-2.2 z M-1.6,-0.9 h2.2 v1.8 h-2.2 z M1.7,-0.9 h2.2 v1.8 h-2.2 z" fill="#333"/><rect x="5.5" y="-2" width="4" height="4" fill="#fff" stroke="#1a1a1a" stroke-width="0.9"/></g>
<g transform="translate(372.3,714.7) rotate(-39.0)"><rect x="-11" y="-3" width="22" height="6" fill="#fff" stroke="#1a1a1a" stroke-width="1.1"/><rect x="-9.5" y="-1.9" width="14" height="3.8" fill="#fff" stroke="#1a1a1a" stroke-width="0.8"/><path d="M-8.2,-0.9 h2.2 v1.8 h-2.2 z M-4.9,-0.9 h2.2 v1.8 h-2.2 z M-1.6,-0.9 h2.2 v1.8 h-2.2 z M1.7,-0.9 h2.2 v1.8 h-2.2 z" fill="#333"/><rect x="5.5" y="-2" width="4" height="4" fill="#fff" stroke="#1a1a1a" stroke-width="0.9"/></g>
<g transform="translate(424.1,634.5) rotate(-67.8)"><rect x="-11" y="-3" width="22" height="6" fill="#fff" stroke="#1a1a1a" stroke-width="1.1"/><rect x="-9.5" y="-1.9" width="14" height="3.8" fill="#fff" stroke="#1a1a1a" stroke-width="0.8"/><path d="M-8.2,-0.9 h2.2 v1.8 h-2.2 z M-4.9,-0.9 h2.2 v1.8 h-2.2 z M-1.6,-0.9 h2.2 v1.8 h-2.2 z M1.7,-0.9 h2.2 v1.8 h-2.2 z" fill="#333"/><rect x="5.5" y="-2" width="4" height="4" fill="#fff" stroke="#1a1a1a" stroke-width="0.9"/></g>
<g transform="translate(468.3,538.2) rotate(-52.0)"><rect x="-11" y="-3" width="22" height="6" fill="#fff" stroke="#1a1a1a" stroke-width="1.1"/><rect x="-9.5" y="-1.9" width="14" height="3.8" fill="#fff" stroke="#1a1a1a" stroke-width="0.8"/><path d="M-8.2,-0.9 h2.2 v1.8 h-2.2 z M-4.9,-0.9 h2.2 v1.8 h-2.2 z M-1.6,-0.9 h2.2 v1.8 h-2.2 z M1.7,-0.9 h2.2 v1.8 h-2.2 z" fill="#333"/><rect x="5.5" y="-2" width="4" height="4" fill="#fff" stroke="#1a1a1a" stroke-width="0.9"/></g>
<g transform="translate(558.8,517.7) rotate(35.5)"><rect x="-11" y="-3" width="22" height="6" fill="#fff" stroke="#1a1a1a" stroke-width="1.1"/><rect x="-9.5" y="-1.9" width="14" height="3.8" fill="#fff" stroke="#1a1a1a" stroke-width="0.8"/><path d="M-8.2,-0.9 h2.2 v1.8 h-2.2 z M-4.9,-0.9 h2.2 v1.8 h-2.2 z M-1.6,-0.9 h2.2 v1.8 h-2.2 z M1.7,-0.9 h2.2 v1.8 h-2.2 z" fill="#333"/><rect x="5.5" y="-2" width="4" height="4" fill="#fff" stroke="#1a1a1a" stroke-width="0.9"/></g>
<g transform="translate(621.6,619.0) rotate(67.8)"><rect x="-11" y="-3" width="22" height="6" fill="#fff" stroke="#1a1a1a" stroke-width="1.1"/><rect x="-9.5" y="-1.9" width="14" height="3.8" fill="#fff" stroke="#1a1a1a" stroke-width="0.8"/><path d="M-8.2,-0.9 h2.2 v1.8 h-2.2 z M-4.9,-0.9 h2.2 v1.8 h-2.2 z M-1.6,-0.9 h2.2 v1.8 h-2.2 z M1.7,-0.9 h2.2 v1.8 h-2.2 z" fill="#333"/><rect x="5.5" y="-2" width="4" height="4" fill="#fff" stroke="#1a1a1a" stroke-width="0.9"/></g>
<g transform="translate(681.2,718.0) rotate(32.8)"><rect x="-11" y="-3" width="22" height="6" fill="#fff" stroke="#1a1a1a" stroke-width="1.1"/><rect x="-9.5" y="-1.9" width="14" height="3.8" fill="#fff" stroke="#1a1a1a" stroke-width="0.8"/><path d="M-8.2,-0.9 h2.2 v1.8 h-2.2 z M-4.9,-0.9 h2.2 v1.8 h-2.2 z M-1.6,-0.9 h2.2 v1.8 h-2.2 z M1.7,-0.9 h2.2 v1.8 h-2.2 z" fill="#333"/><rect x="5.5" y="-2" width="4" height="4" fill="#fff" stroke="#1a1a1a" stroke-width="0.9"/></g>
<g transform="translate(767.6,681.9) rotate(-60.7)"><rect x="-11" y="-3" width="22" height="6" fill="#fff" stroke="#1a1a1a" stroke-width="1.1"/><rect x="-9.5" y="-1.9" width="14" height="3.8" fill="#fff" stroke="#1a1a1a" stroke-width="0.8"/><path d="M-8.2,-0.9 h2.2 v1.8 h-2.2 z M-4.9,-0.9 h2.2 v1.8 h-2.2 z M-1.6,-0.9 h2.2 v1.8 h-2.2 z M1.7,-0.9 h2.2 v1.8 h-2.2 z" fill="#333"/><rect x="5.5" y="-2" width="4" height="4" fill="#fff" stroke="#1a1a1a" stroke-width="0.9"/></g>
<g transform="translate(810.1,584.0) rotate(-68.1)"><rect x="-11" y="-3" width="22" height="6" fill="#fff" stroke="#1a1a1a" stroke-width="1.1"/><rect x="-9.5" y="-1.9" width="14" height="3.8" fill="#fff" stroke="#1a1a1a" stroke-width="0.8"/><path d="M-8.2,-0.9 h2.2 v1.8 h-2.2 z M-4.9,-0.9 h2.2 v1.8 h-2.2 z M-1.6,-0.9 h2.2 v1.8 h-2.2 z M1.7,-0.9 h2.2 v1.8 h-2.2 z" fill="#333"/><rect x="5.5" y="-2" width="4" height="4" fill="#fff" stroke="#1a1a1a" stroke-width="0.9"/></g>
<g transform="translate(864.9,509.2) rotate(-18.5)"><rect x="-11" y="-3" width="22" height="6" fill="#fff" stroke="#1a1a1a" stroke-width="1.1"/><rect x="-9.5" y="-1.9" width="14" height="3.8" fill="#fff" stroke="#1a1a1a" stroke-width="0.8"/><path d="M-8.2,-0.9 h2.2 v1.8 h-2.2 z M-4.9,-0.9 h2.2 v1.8 h-2.2 z M-1.6,-0.9 h2.2 v1.8 h-2.2 z M1.7,-0.9 h2.2 v1.8 h-2.2 z" fill="#333"/><rect x="5.5" y="-2" width="4" height="4" fill="#fff" stroke="#1a1a1a" stroke-width="0.9"/></g>
<polygon points="524.5,496 531.5,496 533.5,523 526.5,523" fill="#fff"/><path d="M523.6,497 C527.5,500 528.5,507 525.8,511.5 C523.5,515.5 524.5,520 527.6,522.5" fill="none" stroke="#1e1e1e" stroke-width="1.6"/><path d="M531.2,497 C535.1,500 536.1,507 533.4,511.5 C531.1,515.5 532.1,520 535.2,522.5" fill="none" stroke="#1e1e1e" stroke-width="1.6"/>
<rect x="23.9" y="504.75" width="18.30" height="15.45" rx="1.2" fill="#fff" stroke="#161616" stroke-width="1.4"/><rect x="26.6" y="505.55" width="3.60" height="13.85" fill="#8a8a8a"/><line x1="27.70" y1="505.55" x2="27.70" y2="519.40" stroke="#444" stroke-width="0.6"/><rect x="31.10" y="503.75" width="3.00" height="6.05" fill="#fff"/><rect x="31.10" y="514.70" width="3.00" height="6.50" fill="#fff"/><path d="M31.5,504.75 V510.2 H33.7 V504.75 M31.5,520.2 V514.3 H33.7 V520.2" fill="none" stroke="#161616" stroke-width="1.2"/><line x1="36.4" y1="504.75" x2="36.4" y2="520.2" stroke="#161616" stroke-width="1.1"/>
<path d="M42.1,522.3 V505 Q42.1,501.8 45.3,501.8 H64.9 V522.3 Z" fill="#fff" stroke="#161616" stroke-width="1.4"/>
<line x1="48.9" y1="501.8" x2="48.9" y2="522.3" stroke="#161616" stroke-width="1.2"/>
<path d="M61,507.7 H46.8 Q43.4,507.7 43.4,512.1 Q43.4,516.5 46.8,516.5 H61 Q62,512.1 61,507.7 Z" fill="none" stroke="#161616" stroke-width="1.3"/>
<rect x="64.9" y="499.5" width="3.5" height="24.8" rx="1.7" fill="#fff" stroke="#161616" stroke-width="1.4"/>
<rect x="68.4" y="500.2" width="14.6" height="23.7" fill="#333" stroke="#161616" stroke-width="0.8"/>
<g fill="#fff"><rect x="70.2" y="499.6" width="1.1" height="1.3"/><rect x="70.2" y="523.1" width="1.1" height="1.3"/><rect x="73.6" y="499.6" width="1.1" height="1.3"/><rect x="73.6" y="523.1" width="1.1" height="1.3"/><rect x="77.0" y="499.6" width="1.1" height="1.3"/><rect x="77.0" y="523.1" width="1.1" height="1.3"/><rect x="80.4" y="499.6" width="1.1" height="1.3"/><rect x="80.4" y="523.1" width="1.1" height="1.3"/></g>
<rect x="90.2" y="503.5" width="5.8" height="16.9" fill="#fff" stroke="#161616" stroke-width="1.4"/>
<rect x="96" y="501.2" width="4.6" height="21.1" fill="#fff" stroke="#161616" stroke-width="1.4"/>
<rect x="100.6" y="499.2" width="18.9" height="25.4" fill="#2b2b2b" stroke="#161616" stroke-width="1"/>
<g stroke="#fff" stroke-width="1.5">
<line x1="102.2" y1="502" x2="117.5" y2="502"/><line x1="102.2" y1="507.3" x2="117.5" y2="507.3"/>
<line x1="102.2" y1="511.9" x2="117.5" y2="511.9"/><line x1="102.2" y1="516.8" x2="117.5" y2="516.8"/>
<line x1="102.2" y1="521.7" x2="117.5" y2="521.7"/>
</g>
<rect x="119.3" y="505.6" width="17.50" height="12.80" rx="1.2" fill="#fff" stroke="#161616" stroke-width="1.4"/><rect x="121.3" y="506.40" width="3.70" height="11.20" fill="#8a8a8a"/><line x1="122.40" y1="506.40" x2="122.40" y2="517.60" stroke="#444" stroke-width="0.6"/><rect x="125.80" y="504.60" width="3.10" height="5.20" fill="#fff"/><rect x="125.80" y="514.00" width="3.10" height="5.40" fill="#fff"/><path d="M126.2,505.6 V510.2 H128.5 V505.6 M126.2,518.4 V513.6 H128.5 V518.4" fill="none" stroke="#161616" stroke-width="1.2"/><line x1="131.5" y1="505.6" x2="131.5" y2="518.4" stroke="#161616" stroke-width="1.1"/>

<path d="M922.6,513 C924,524 932,527 950,529 C968,530.5 986,528 989.5,521 C991.5,517 990.5,512 988,508" fill="none" stroke="#161616" stroke-width="1.9"/>
<rect x="912.6" y="501" width="7.2" height="13" rx="1.2" fill="#fff" stroke="#161616" stroke-width="1.3"/>
<rect x="914.3" y="502" width="4.6" height="11" fill="#8a8a8a"/>
<rect x="919.8" y="505.5" width="3" height="4" fill="#fff" stroke="#161616" stroke-width="1"/>
<ellipse cx="925" cy="506" rx="3.2" ry="14.3" fill="#fff" stroke="#161616" stroke-width="1.9"/>
<rect x="924.2" y="501.4" width="4.8" height="12.2" fill="#fff" stroke="#161616" stroke-width="1.2"/>
<rect x="929" y="500.4" width="18.7" height="14.5" fill="#fff" stroke="#161616" stroke-width="1.4"/>
<path d="M929.8,504.4 H941 Q942.5,504.4 942.5,506 V509.7 Q942.5,511.3 941,511.3 H929.8" fill="none" stroke="#161616" stroke-width="1.2"/>
<line x1="932.8" y1="500.4" x2="932.8" y2="514.9" stroke="#161616" stroke-width="1"/>
<rect x="947.5" y="495.5" width="14" height="24.5" fill="#333" stroke="#161616" stroke-width="0.8"/>
<g fill="#fff"><rect x="949.6" y="494.9" width="1.1" height="1.3"/><rect x="949.6" y="519.2" width="1.1" height="1.3"/><rect x="953.0" y="494.9" width="1.1" height="1.3"/><rect x="953.0" y="519.2" width="1.1" height="1.3"/><rect x="956.4" y="494.9" width="1.1" height="1.3"/><rect x="956.4" y="519.2" width="1.1" height="1.3"/><rect x="959.6" y="494.9" width="1.1" height="1.3"/><rect x="959.6" y="519.2" width="1.1" height="1.3"/></g>
<circle cx="987.5" cy="507" r="3" fill="#333"/>
<rect x="967" y="495" width="18.5" height="24" rx="1.5" fill="#333" stroke="#161616" stroke-width="0.8"/>
<g stroke="#fff" stroke-width="1.3">
<line x1="968.5" y1="499" x2="984" y2="499"/><line x1="968.5" y1="506.7" x2="984" y2="506.7"/><line x1="968.5" y1="515.5" x2="984" y2="515.5"/>
</g>


<line x1="368.2" y1="307" x2="627.8" y2="307" stroke="#3a3a3a" stroke-width="1.3"/>
<line x1="497.2" y1="307" x2="497.2" y2="316.3" stroke="#3a3a3a" stroke-width="1.2"/><polygon points="494.5,314.8 499.9,314.8 497.2,324.3" fill="#1e1e1e"/>
<line x1="468.6" y1="420.4" x2="546" y2="420.4" stroke="#3a3a3a" stroke-width="1.3"/>
<line x1="507.6" y1="420.4" x2="507.6" y2="429.2" stroke="#3a3a3a" stroke-width="1.2"/><polygon points="504.90000000000003,427.7 510.3,427.7 507.6,437.2" fill="#1e1e1e"/>
<line x1="19.2" y1="472.8" x2="209.6" y2="472.8" stroke="#3a3a3a" stroke-width="1.3"/>
<line x1="111.3" y1="472.8" x2="111.3" y2="483.5" stroke="#3a3a3a" stroke-width="1.2"/><polygon points="108.6,482.0 114.0,482.0 111.3,491.5" fill="#1e1e1e"/>
<line x1="845.6" y1="405.4" x2="984" y2="405.4" stroke="#3a3a3a" stroke-width="1.3"/>
<line x1="968.4" y1="405.4" x2="968.4" y2="480.2" stroke="#3a3a3a" stroke-width="1.2"/><polygon points="965.6999999999999,478.7 971.1,478.7 968.4,488.2" fill="#1e1e1e"/>
<path d="M754.3,470 H944 V480" fill="none" stroke="#3a3a3a" stroke-width="1.3"/>
<line x1="944.2" y1="470" x2="944.2" y2="480.2" stroke="#3a3a3a" stroke-width="1.2"/><polygon points="941.5,478.7 946.9000000000001,478.7 944.2,488.2" fill="#1e1e1e"/>
<path d="M181.8,223.2 V286.2 H275" fill="none" stroke="#3a3a3a" stroke-width="1.3"/>
<line x1="157" y1="233.3" x2="181.8" y2="233.3" stroke="#3a3a3a" stroke-width="1.2"/>
<polygon points="147.4,233.3 157.6,230.5 157.6,236.1" fill="#1e1e1e"/>
<line x1="177.9" y1="758" x2="177.9" y2="796" stroke="#555" stroke-width="1.3"/>
<line x1="865.9" y1="758" x2="865.9" y2="796" stroke="#555" stroke-width="1.3"/>
<line x1="190" y1="784.5" x2="852" y2="784.5" stroke="#3a3a3a" stroke-width="1.2"/>
<polygon points="179.7,784.5 193.2,781 193.2,788" fill="#1e1e1e"/>
<polygon points="862.3,784.5 848.2,781 848.2,788" fill="#1e1e1e"/>

<path d="M36.2,305.6 C36.6,303.2 38.3,302.1 40.4,302.1 C42.8,302.1 44.5,303.6 44.5,305.8 C44.5,308.2 42.6,309.8 40,309.8 C43,309.8 45.2,311.8 45.2,314.2 C45.2,316.6 43.2,318.1 40.5,318.1 C38.2,318.1 36.4,317 35.6,315.2" fill="none" stroke="#111" stroke-width="1.75"/><ellipse cx="55.9" cy="310.05" rx="5.1" ry="7.9" fill="none" stroke="#111" stroke-width="1.75"/><ellipse cx="70.85" cy="310.05" rx="5.1" ry="7.9" fill="none" stroke="#111" stroke-width="1.75"/><path d="M790.4,318.9 V302.1 L786.4,303.40000000000003" fill="none" stroke="#111" stroke-width="1.75" stroke-linejoin="miter"/><path d="M795.9,306.2 C796.3,303.6 798.2,302.1 800.5,302.1 C803,302.1 804.8,303.8 804.8,306.2 C804.8,308 803.8,309.4 802.6,310.8 L795.8,318.3 H806" fill="none" stroke="#111" stroke-width="1.75" stroke-linejoin="miter"/><ellipse cx="814.8" cy="310.4" rx="5.1" ry="7.9" fill="none" stroke="#111" stroke-width="1.75"/><ellipse cx="829.6" cy="310.4" rx="5.1" ry="7.9" fill="none" stroke="#111" stroke-width="1.75"/><path d="M488.6,769.4 V752.4 L485,753.6999999999999" fill="none" stroke="#111" stroke-width="1.75" stroke-linejoin="miter"/><ellipse cx="501.4" cy="760.75" rx="5.1" ry="7.9" fill="none" stroke="#111" stroke-width="1.75"/><ellipse cx="516.1" cy="760.75" rx="5.1" ry="7.9" fill="none" stroke="#111" stroke-width="1.75"/><ellipse cx="530.9" cy="760.75" rx="5.1" ry="7.9" fill="none" stroke="#111" stroke-width="1.75"/><ellipse cx="545.75" cy="760.75" rx="5.1" ry="7.9" fill="none" stroke="#111" stroke-width="1.75"/>
<g filter="url(#gs)">
<text x="190.3" y="232.2" font-size="16.5" textLength="55.0" lengthAdjust="spacingAndGlyphs">Кнопка</text>
<text x="190.3" y="252.6" font-size="16.5" textLength="57.2" lengthAdjust="spacingAndGlyphs">выбора</text>
<text x="190.3" y="273.0" font-size="16.5" textLength="75.4" lengthAdjust="spacingAndGlyphs">программ</text>
<text x="367.3" y="295.8" font-size="18" textLength="261.8" lengthAdjust="spacingAndGlyphs">Шнур с вилкой и контроллером</text>
<text x="470.3" y="410.8" font-size="18" textLength="74.2" lengthAdjust="spacingAndGlyphs">Гирлянда</text>
<text x="19.5" y="460.5" font-size="16" textLength="188.4" lengthAdjust="spacingAndGlyphs">Разъем 1 — вход питания</text>
<text x="854.4" y="396.6" font-size="16" textLength="128.7" lengthAdjust="spacingAndGlyphs">Крышка разъема</text>
<text x="754.3" y="436.8" font-size="16" textLength="189.3" lengthAdjust="spacingAndGlyphs">Разъем 2 — подключение</text>
<text x="760.7" y="457.1" font-size="16" textLength="183.0" lengthAdjust="spacingAndGlyphs">дополнительных гирлянд</text>
</g>
</svg>
</body></html>
